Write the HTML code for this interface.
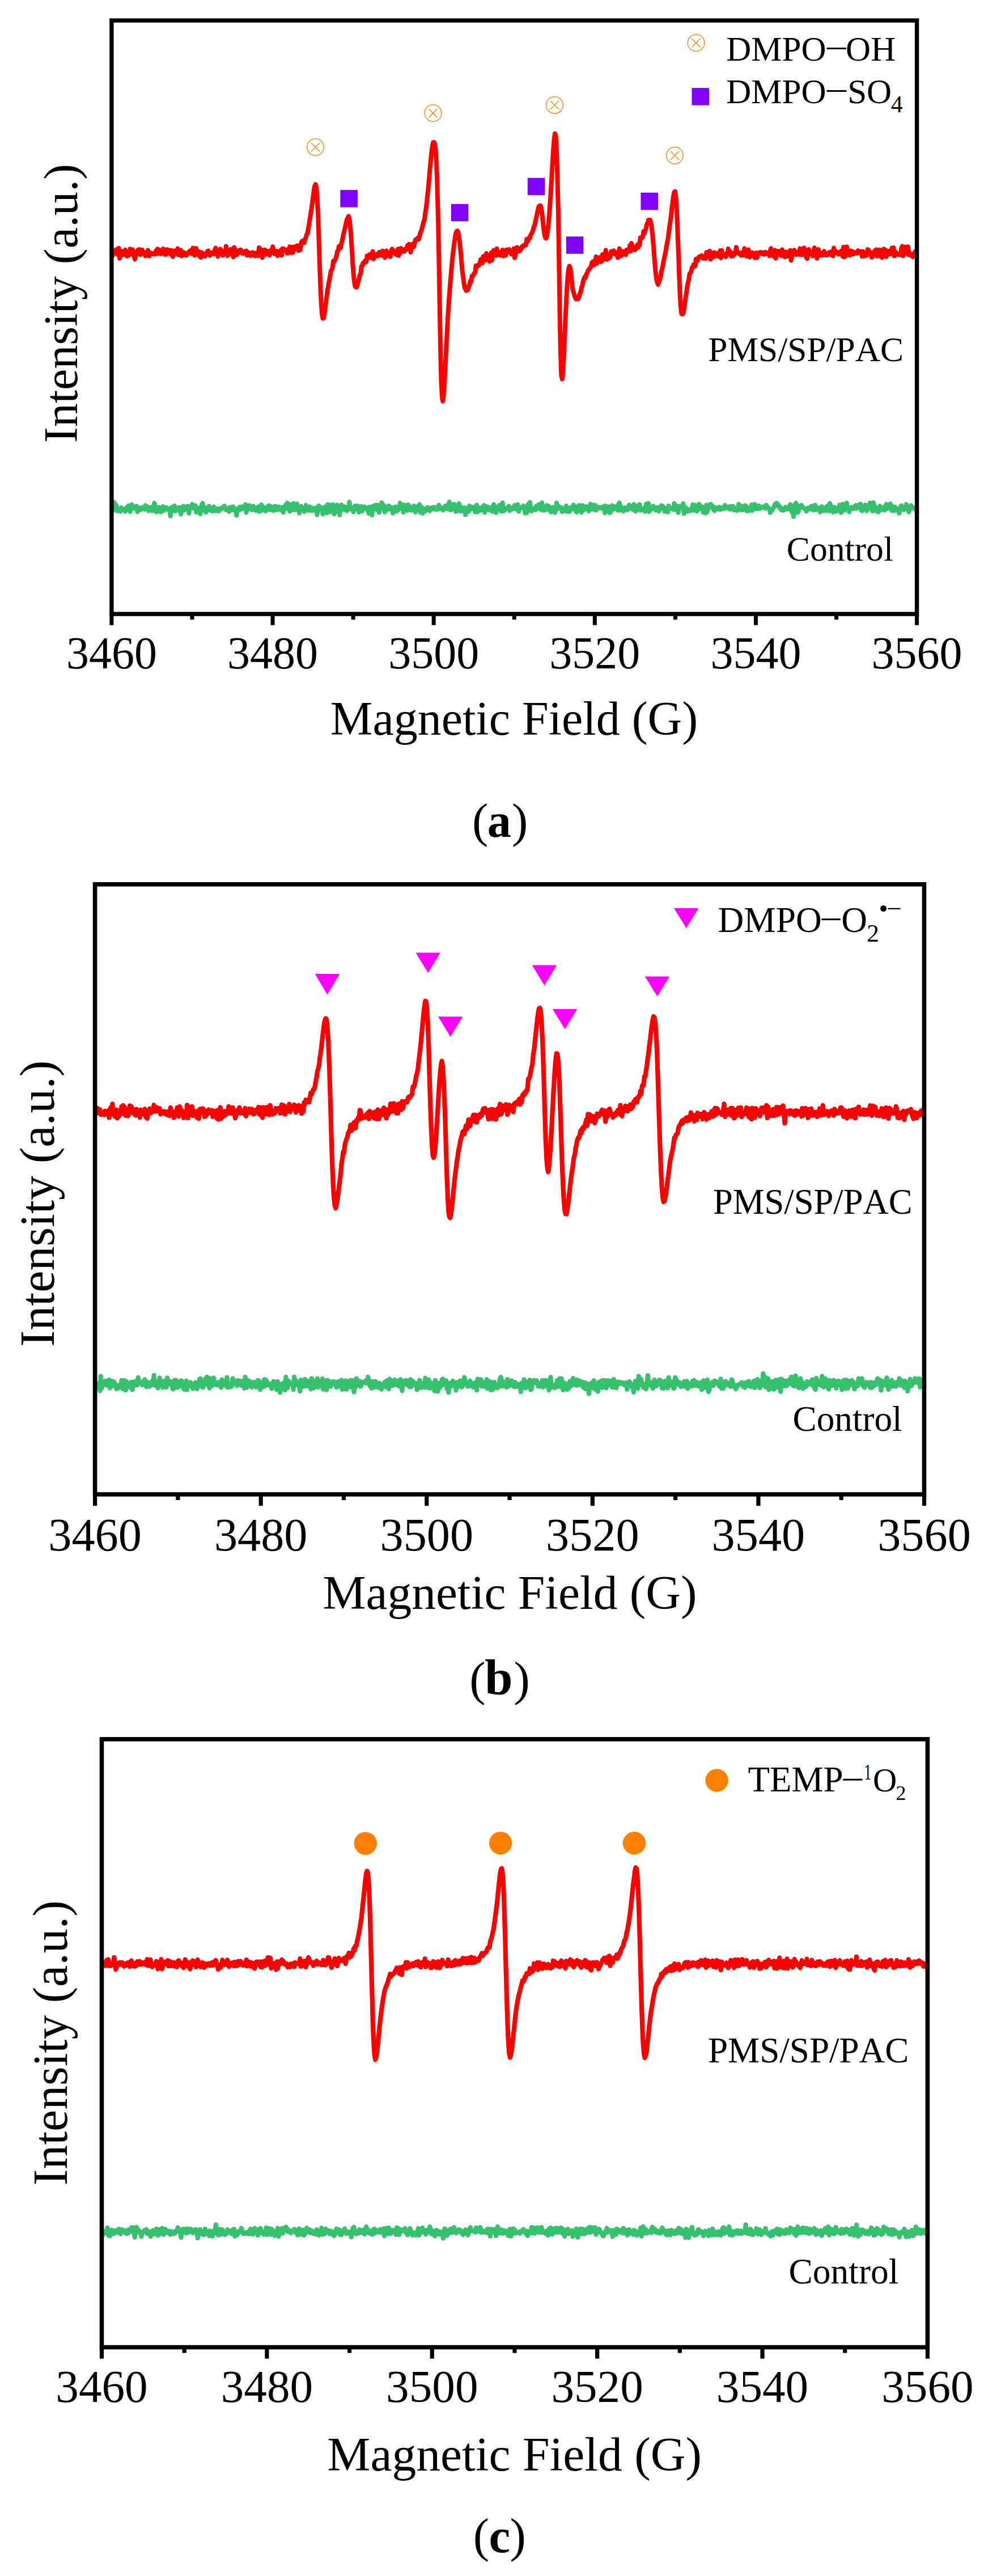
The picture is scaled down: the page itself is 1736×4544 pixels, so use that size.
<!DOCTYPE html>
<html lang="en"><head><meta charset="utf-8"><title>EPR spectra</title>
<style>html,body{margin:0;padding:0;background:#fff}svg{display:block}</style></head>
<body>
<svg width="1736" height="4544" viewBox="0 0 1736 4544" font-family="'Liberation Serif', 'Times New Roman', Times, serif" fill="#000" style="font-kerning:none">
<rect width="1736" height="4544" fill="#fff"/>
<defs>
<clipPath id="ca"><rect x="196.90" y="36.10" width="1420.70" height="1047.00"/></clipPath>
<clipPath id="cb"><rect x="167.60" y="1559.90" width="1462.90" height="1076.10"/></clipPath>
<clipPath id="cc"><rect x="179.50" y="3067.90" width="1456.90" height="1072.60"/></clipPath>
</defs>
<g clip-path="url(#ca)" fill="none" stroke-linejoin="round" stroke-linecap="butt">
<path d="M196.9 891.8L198.3 901.3L199.7 899.4L201.2 885.8L202.6 889.0L204.0 895.6L205.4 891.1L206.9 901.4L208.3 897.3L209.7 898.8L211.1 900.3L212.5 901.9L214.0 895.4L215.4 899.1L216.8 897.6L218.2 899.8L219.7 898.8L221.1 902.3L222.5 898.7L223.9 894.6L225.3 897.1L226.8 892.0L228.2 897.9L229.6 902.7L231.0 894.1L232.5 889.9L233.9 896.2L235.3 894.5L236.7 896.6L238.1 894.2L239.6 896.9L241.0 892.5L242.4 902.8L243.8 895.7L245.3 898.6L246.7 899.6L248.1 896.0L249.5 898.4L250.9 895.6L252.4 894.8L253.8 895.7L255.2 898.5L256.6 891.5L258.1 892.9L259.5 893.3L260.9 894.3L262.3 901.2L263.7 896.5L265.2 895.3L266.6 897.2L268.0 900.8L269.4 893.6L270.9 900.7L272.3 887.2L273.7 893.0L275.1 902.5L276.5 902.9L278.0 897.4L279.4 894.9L280.8 899.9L282.2 895.0L283.6 902.9L285.1 901.4L286.5 899.7L287.9 893.3L289.3 900.6L290.8 895.7L292.2 895.7L293.6 895.0L295.0 896.2L296.4 898.7L297.9 900.1L299.3 900.1L300.7 910.3L302.1 895.3L303.6 901.4L305.0 894.1L306.4 896.0L307.8 892.1L309.2 901.6L310.7 897.8L312.1 897.3L313.5 896.3L314.9 900.5L316.4 894.8L317.8 898.4L319.2 906.9L320.6 896.2L322.0 894.3L323.5 892.7L324.9 900.1L326.3 897.1L327.7 893.8L329.2 893.5L330.6 896.9L332.0 892.8L333.4 905.3L334.8 896.0L336.3 896.1L337.7 896.5L339.1 889.5L340.5 891.0L342.0 895.4L343.4 896.7L344.8 891.8L346.2 903.6L347.6 898.7L349.1 902.0L350.5 901.5L351.9 895.9L353.3 906.6L354.8 897.3L356.2 889.3L357.6 887.4L359.0 896.8L360.4 900.3L361.9 897.1L363.3 903.8L364.7 895.6L366.1 899.1L367.6 899.8L369.0 892.7L370.4 898.1L371.8 898.3L373.2 901.2L374.7 901.7L376.1 900.8L377.5 893.8L378.9 899.8L380.4 901.1L381.8 897.0L383.2 899.8L384.6 899.9L386.0 901.6L387.5 897.1L388.9 898.7L390.3 897.6L391.7 897.1L393.2 894.3L394.6 895.5L396.0 892.3L397.4 896.0L398.8 899.6L400.3 899.3L401.7 899.8L403.1 896.3L404.5 902.4L406.0 895.0L407.4 899.9L408.8 898.5L410.2 893.8L411.6 894.0L413.1 899.8L414.5 896.9L415.9 897.9L417.3 909.1L418.8 899.1L420.2 897.3L421.6 899.7L423.0 894.4L424.4 896.1L425.9 898.6L427.3 893.5L428.7 896.7L430.1 896.1L431.6 897.2L433.0 889.7L434.4 903.9L435.8 896.5L437.2 899.0L438.7 892.7L440.1 891.6L441.5 896.9L442.9 895.5L444.3 899.4L445.8 893.1L447.2 892.9L448.6 898.1L450.0 899.6L451.5 900.5L452.9 896.7L454.3 897.9L455.7 893.6L457.1 902.1L458.6 901.4L460.0 901.2L461.4 890.4L462.8 900.3L464.3 893.9L465.7 898.8L467.1 898.5L468.5 901.7L469.9 896.0L471.4 895.4L472.8 892.8L474.2 892.0L475.6 899.1L477.1 893.1L478.5 899.5L479.9 895.2L481.3 894.5L482.7 900.6L484.2 900.2L485.6 892.8L487.0 896.1L488.4 896.7L489.9 899.4L491.3 893.8L492.7 895.1L494.1 896.3L495.5 899.5L497.0 900.3L498.4 894.6L499.8 903.7L501.2 898.4L502.7 893.5L504.1 890.5L505.5 894.7L506.9 887.2L508.3 897.4L509.8 898.9L511.2 901.8L512.6 898.7L514.0 889.9L515.5 895.6L516.9 899.5L518.3 888.0L519.7 893.4L521.1 899.2L522.6 896.9L524.0 888.7L525.4 894.7L526.8 896.8L528.3 905.0L529.7 894.9L531.1 893.1L532.5 897.7L533.9 898.0L535.4 899.0L536.8 902.5L538.2 896.4L539.6 891.2L541.1 896.9L542.5 896.8L543.9 900.6L545.3 900.1L546.7 893.8L548.2 899.8L549.6 900.7L551.0 896.0L552.4 900.5L553.9 897.4L555.3 897.4L556.7 896.1L558.1 899.9L559.5 908.2L561.0 897.6L562.4 892.1L563.8 895.8L565.2 894.4L566.7 898.0L568.1 896.2L569.5 906.9L570.9 899.7L572.3 904.1L573.8 893.9L575.2 895.9L576.6 904.9L578.0 890.0L579.5 897.3L580.9 890.5L582.3 902.9L583.7 891.1L585.1 895.5L586.6 896.0L588.0 890.0L589.4 906.6L590.8 896.0L592.2 903.3L593.7 893.9L595.1 890.8L596.5 897.6L597.9 897.5L599.4 908.4L600.8 892.5L602.2 890.4L603.6 893.9L605.0 897.9L606.5 898.9L607.9 893.7L609.3 895.3L610.7 898.9L612.2 901.0L613.6 894.3L615.0 897.2L616.4 885.6L617.8 892.8L619.3 898.4L620.7 896.6L622.1 895.9L623.5 903.1L625.0 895.5L626.4 892.3L627.8 897.5L629.2 897.5L630.6 892.1L632.1 900.7L633.5 903.5L634.9 894.3L636.3 893.2L637.8 896.3L639.2 901.6L640.6 894.4L642.0 893.7L643.4 894.3L644.9 897.6L646.3 897.5L647.7 896.0L649.1 901.5L650.6 905.7L652.0 894.3L653.4 900.8L654.8 897.7L656.2 908.7L657.7 893.1L659.1 895.3L660.5 897.1L661.9 891.0L663.4 895.8L664.8 899.5L666.2 890.9L667.6 897.2L669.0 903.8L670.5 894.3L671.9 893.1L673.3 886.5L674.7 896.2L676.2 890.1L677.6 898.9L679.0 903.2L680.4 898.9L681.8 893.5L683.3 899.3L684.7 894.8L686.1 892.1L687.5 894.7L689.0 897.6L690.4 895.2L691.8 898.8L693.2 905.2L694.6 899.1L696.1 899.7L697.5 894.0L698.9 902.0L700.3 898.1L701.8 900.7L703.2 893.5L704.6 897.6L706.0 887.2L707.4 895.2L708.9 893.2L710.3 892.6L711.7 903.6L713.1 890.5L714.6 896.0L716.0 896.0L717.4 898.7L718.8 900.6L720.2 890.2L721.7 894.4L723.1 893.8L724.5 899.4L725.9 900.3L727.4 894.9L728.8 894.4L730.2 892.5L731.6 898.0L733.0 903.3L734.5 898.1L735.9 893.8L737.3 893.2L738.7 893.7L740.2 890.0L741.6 903.5L743.0 896.9L744.4 895.2L745.8 905.5L747.3 897.4L748.7 902.5L750.1 897.6L751.5 901.0L752.9 896.8L754.4 895.1L755.8 898.2L757.2 899.4L758.6 900.9L760.1 897.4L761.5 895.5L762.9 895.1L764.3 897.8L765.7 894.6L767.2 895.2L768.6 898.7L770.0 898.9L771.4 898.6L772.9 893.6L774.3 890.8L775.7 897.6L777.1 897.0L778.5 895.0L780.0 897.4L781.4 899.9L782.8 895.7L784.2 898.1L785.7 892.6L787.1 895.7L788.5 893.2L789.9 890.7L791.3 898.3L792.8 885.2L794.2 896.3L795.6 899.6L797.0 898.1L798.5 890.3L799.9 897.5L801.3 889.2L802.7 893.0L804.1 902.3L805.6 897.2L807.0 901.2L808.4 892.1L809.8 888.2L811.3 893.5L812.7 901.6L814.1 900.2L815.5 900.8L816.9 895.9L818.4 896.2L819.8 895.7L821.2 908.1L822.6 896.9L824.1 903.6L825.5 895.8L826.9 902.1L828.3 892.2L829.7 894.5L831.2 898.0L832.6 894.3L834.0 894.9L835.4 895.9L836.9 894.4L838.3 902.8L839.7 901.1L841.1 891.0L842.5 903.4L844.0 896.4L845.4 896.4L846.8 895.9L848.2 900.1L849.7 899.4L851.1 894.5L852.5 896.8L853.9 891.3L855.3 904.0L856.8 893.2L858.2 893.0L859.6 893.7L861.0 897.2L862.5 899.6L863.9 895.2L865.3 896.7L866.7 895.2L868.1 901.8L869.6 897.5L871.0 889.8L872.4 902.5L873.8 898.0L875.3 904.3L876.7 894.2L878.1 894.6L879.5 895.9L880.9 891.0L882.4 895.1L883.8 901.7L885.2 899.4L886.6 887.0L888.1 901.8L889.5 898.1L890.9 899.9L892.3 896.8L893.7 897.4L895.2 896.9L896.6 896.9L898.0 892.5L899.4 900.8L900.9 897.5L902.3 898.2L903.7 898.0L905.1 895.4L906.5 896.4L908.0 891.3L909.4 897.7L910.8 897.8L912.2 895.7L913.6 889.8L915.1 902.0L916.5 896.0L917.9 896.6L919.3 895.4L920.8 894.3L922.2 895.0L923.6 892.2L925.0 894.3L926.4 904.9L927.9 901.4L929.3 904.7L930.7 894.2L932.1 889.1L933.6 891.2L935.0 886.1L936.4 901.0L937.8 901.6L939.2 897.1L940.7 898.2L942.1 898.1L943.5 896.2L944.9 899.6L946.4 892.6L947.8 894.9L949.2 896.1L950.6 889.8L952.0 892.6L953.5 898.4L954.9 898.0L956.3 886.8L957.7 900.3L959.2 898.1L960.6 899.7L962.0 896.4L963.4 899.0L964.8 891.5L966.3 895.8L967.7 892.4L969.1 894.6L970.5 901.3L972.0 903.2L973.4 896.8L974.8 894.9L976.2 899.8L977.6 898.5L979.1 904.3L980.5 899.2L981.9 887.3L983.3 896.9L984.8 895.4L986.2 893.4L987.6 897.2L989.0 896.9L990.4 895.2L991.9 902.7L993.3 898.1L994.7 898.3L996.1 897.3L997.6 901.5L999.0 892.2L1000.4 901.5L1001.8 895.7L1003.2 902.6L1004.7 902.3L1006.1 898.6L1007.5 894.8L1008.9 897.8L1010.4 898.1L1011.8 890.8L1013.2 895.4L1014.6 893.9L1016.0 902.1L1017.5 903.4L1018.9 893.7L1020.3 894.5L1021.7 891.4L1023.2 897.7L1024.6 899.9L1026.0 903.8L1027.4 891.5L1028.8 900.4L1030.3 896.1L1031.7 893.8L1033.1 895.3L1034.5 893.6L1036.0 898.4L1037.4 896.6L1038.8 901.4L1040.2 894.5L1041.6 889.2L1043.1 892.7L1044.5 898.0L1045.9 890.7L1047.3 893.6L1048.8 898.8L1050.2 891.1L1051.6 900.0L1053.0 898.0L1054.4 894.3L1055.9 896.4L1057.3 894.6L1058.7 895.0L1060.1 895.3L1061.6 896.7L1063.0 896.2L1064.4 893.6L1065.8 892.7L1067.2 904.9L1068.7 892.2L1070.1 896.0L1071.5 901.4L1072.9 900.5L1074.3 893.7L1075.8 904.6L1077.2 903.6L1078.6 895.3L1080.0 891.7L1081.5 899.1L1082.9 895.9L1084.3 895.4L1085.7 893.4L1087.1 894.2L1088.6 897.2L1090.0 900.2L1091.4 888.3L1092.8 887.1L1094.3 900.4L1095.7 893.2L1097.1 899.3L1098.5 897.0L1099.9 901.6L1101.4 900.2L1102.8 895.5L1104.2 896.0L1105.6 897.9L1107.1 899.6L1108.5 894.1L1109.9 890.5L1111.3 897.0L1112.7 896.4L1114.2 896.0L1115.6 892.6L1117.0 899.0L1118.4 889.7L1119.9 894.7L1121.3 901.8L1122.7 892.2L1124.1 898.3L1125.5 898.4L1127.0 898.3L1128.4 889.9L1129.8 900.6L1131.2 897.2L1132.7 898.6L1134.1 897.8L1135.5 896.9L1136.9 901.5L1138.3 902.4L1139.8 889.2L1141.2 893.5L1142.6 896.0L1144.0 888.0L1145.5 902.5L1146.9 893.5L1148.3 898.9L1149.7 897.5L1151.1 895.8L1152.6 892.6L1154.0 895.2L1155.4 897.0L1156.8 899.8L1158.3 895.8L1159.7 895.1L1161.1 895.6L1162.5 901.8L1163.9 897.8L1165.4 893.9L1166.8 891.6L1168.2 895.0L1169.6 893.0L1171.1 895.0L1172.5 902.1L1173.9 899.4L1175.3 897.5L1176.7 898.3L1178.2 903.5L1179.6 892.1L1181.0 898.4L1182.4 895.8L1183.9 897.2L1185.3 896.9L1186.7 895.4L1188.1 898.8L1189.5 888.0L1191.0 897.8L1192.4 899.3L1193.8 892.8L1195.2 892.7L1196.7 904.2L1198.1 893.1L1199.5 895.1L1200.9 893.6L1202.3 894.2L1203.8 894.0L1205.2 888.2L1206.6 906.1L1208.0 893.7L1209.5 898.1L1210.9 896.3L1212.3 902.0L1213.7 899.4L1215.1 901.1L1216.6 901.3L1218.0 900.0L1219.4 896.8L1220.8 900.2L1222.3 890.3L1223.7 900.2L1225.1 899.4L1226.5 897.8L1227.9 891.3L1229.4 901.9L1230.8 893.9L1232.2 899.1L1233.6 889.3L1235.0 895.9L1236.5 894.0L1237.9 893.5L1239.3 894.0L1240.7 903.7L1242.2 896.5L1243.6 898.0L1245.0 905.1L1246.4 890.9L1247.8 902.7L1249.3 895.1L1250.7 894.1L1252.1 895.0L1253.5 889.4L1255.0 890.5L1256.4 892.1L1257.8 894.4L1259.2 899.4L1260.6 900.9L1262.1 895.1L1263.5 898.1L1264.9 898.3L1266.3 895.7L1267.8 897.5L1269.2 894.3L1270.6 898.8L1272.0 895.7L1273.4 896.7L1274.9 897.6L1276.3 897.2L1277.7 893.7L1279.1 891.2L1280.6 896.3L1282.0 894.3L1283.4 894.5L1284.8 896.2L1286.2 893.8L1287.7 898.4L1289.1 898.2L1290.5 893.0L1291.9 898.0L1293.4 892.8L1294.8 899.5L1296.2 899.0L1297.6 896.5L1299.0 900.1L1300.5 900.6L1301.9 898.3L1303.3 889.3L1304.7 897.1L1306.2 897.4L1307.6 899.8L1309.0 892.6L1310.4 899.4L1311.8 898.0L1313.3 898.2L1314.7 891.6L1316.1 893.1L1317.5 901.1L1319.0 899.8L1320.4 896.2L1321.8 900.9L1323.2 897.6L1324.6 894.9L1326.1 890.3L1327.5 900.6L1328.9 896.0L1330.3 897.5L1331.8 889.4L1333.2 894.4L1334.6 897.7L1336.0 895.5L1337.4 893.6L1338.9 892.1L1340.3 897.3L1341.7 895.1L1343.1 895.2L1344.6 895.3L1346.0 893.9L1347.4 895.2L1348.8 894.1L1350.2 896.6L1351.7 891.0L1353.1 892.1L1354.5 896.6L1355.9 895.8L1357.4 897.1L1358.8 904.5L1360.2 899.4L1361.6 901.0L1363.0 898.1L1364.5 896.0L1365.9 893.3L1367.3 889.1L1368.7 890.9L1370.2 887.2L1371.6 892.0L1373.0 890.2L1374.4 892.6L1375.8 896.4L1377.3 894.9L1378.7 900.0L1380.1 900.1L1381.5 900.5L1382.9 899.9L1384.4 897.5L1385.8 894.4L1387.2 898.3L1388.6 895.5L1390.1 895.7L1391.5 898.1L1392.9 892.2L1394.3 890.0L1395.7 897.8L1397.2 903.5L1398.6 900.9L1400.0 911.4L1401.4 890.9L1402.9 893.9L1404.3 887.4L1405.7 893.1L1407.1 904.0L1408.5 902.9L1410.0 892.5L1411.4 895.2L1412.8 893.2L1414.2 891.2L1415.7 895.5L1417.1 895.2L1418.5 896.9L1419.9 897.5L1421.3 899.3L1422.8 901.9L1424.2 896.2L1425.6 895.7L1427.0 896.5L1428.5 898.3L1429.9 896.0L1431.3 892.6L1432.7 894.4L1434.1 899.4L1435.6 892.4L1437.0 899.7L1438.4 891.0L1439.8 898.9L1441.3 898.8L1442.7 895.7L1444.1 896.4L1445.5 895.6L1446.9 903.2L1448.4 894.8L1449.8 893.6L1451.2 898.0L1452.6 900.9L1454.1 897.8L1455.5 895.9L1456.9 900.6L1458.3 893.5L1459.7 893.4L1461.2 891.6L1462.6 901.3L1464.0 887.7L1465.4 891.4L1466.9 897.5L1468.3 898.1L1469.7 903.4L1471.1 898.2L1472.5 894.5L1474.0 902.0L1475.4 900.7L1476.8 901.1L1478.2 900.7L1479.7 898.5L1481.1 890.8L1482.5 892.3L1483.9 904.3L1485.3 896.7L1486.8 889.2L1488.2 896.7L1489.6 900.3L1491.0 898.1L1492.5 896.5L1493.9 887.3L1495.3 896.7L1496.7 895.9L1498.1 903.1L1499.6 896.5L1501.0 896.3L1502.4 894.7L1503.8 896.0L1505.3 897.6L1506.7 894.5L1508.1 893.0L1509.5 891.6L1510.9 896.9L1512.4 895.1L1513.8 895.2L1515.2 890.5L1516.6 893.3L1518.1 889.0L1519.5 900.2L1520.9 901.1L1522.3 898.1L1523.7 896.0L1525.2 898.3L1526.6 890.6L1528.0 891.2L1529.4 901.1L1530.9 892.3L1532.3 896.2L1533.7 893.8L1535.1 886.8L1536.5 893.8L1538.0 899.7L1539.4 901.6L1540.8 886.5L1542.2 890.2L1543.6 894.2L1545.1 900.4L1546.5 901.3L1547.9 902.7L1549.3 903.1L1550.8 894.8L1552.2 892.5L1553.6 900.1L1555.0 895.4L1556.4 896.6L1557.9 895.0L1559.3 894.9L1560.7 900.1L1562.1 892.4L1563.6 889.5L1565.0 893.7L1566.4 896.8L1567.8 895.2L1569.2 895.9L1570.7 888.5L1572.1 892.9L1573.5 900.7L1574.9 895.7L1576.4 893.7L1577.8 900.9L1579.2 894.2L1580.6 899.4L1582.0 897.2L1583.5 898.0L1584.9 900.5L1586.3 905.3L1587.7 901.4L1589.2 893.0L1590.6 891.9L1592.0 895.1L1593.4 895.7L1594.8 899.1L1596.3 896.5L1597.7 897.1L1599.1 889.6L1600.5 896.1L1602.0 898.4L1603.4 903.1L1604.8 899.5L1606.2 896.7L1607.6 891.6L1609.1 896.3L1610.5 896.3L1611.9 895.8L1613.3 896.9L1614.8 898.3L1616.2 898.1L1617.6 905.2" stroke="#36c16e" stroke-width="8.0"/>
<path d="M196.9 440.0L198.3 451.3L199.7 442.3L201.2 444.9L202.6 445.6L204.0 442.9L205.4 440.2L206.9 448.7L208.3 447.5L209.7 437.8L211.1 455.8L212.5 450.0L214.0 442.8L215.4 449.8L216.8 444.0L218.2 445.7L219.7 449.3L221.1 440.7L222.5 448.4L223.9 451.8L225.3 451.5L226.8 444.7L228.2 449.8L229.6 439.1L231.0 445.3L232.5 447.8L233.9 440.3L235.3 445.6L236.7 453.2L238.1 457.0L239.6 449.2L241.0 449.4L242.4 441.9L243.8 440.9L245.3 440.0L246.7 448.2L248.1 449.1L249.5 443.2L250.9 440.8L252.4 447.0L253.8 447.3L255.2 445.4L256.6 451.3L258.1 445.6L259.5 445.7L260.9 441.3L262.3 446.5L263.7 451.6L265.2 446.2L266.6 446.2L268.0 447.8L269.4 447.1L270.9 448.2L272.3 448.2L273.7 448.5L275.1 442.6L276.5 447.2L278.0 439.2L279.4 447.1L280.8 440.6L282.2 445.6L283.6 447.9L285.1 444.2L286.5 446.3L287.9 439.0L289.3 442.3L290.8 448.8L292.2 441.1L293.6 448.7L295.0 440.1L296.4 442.1L297.9 441.3L299.3 446.0L300.7 448.2L302.1 441.5L303.6 445.2L305.0 452.7L306.4 444.6L307.8 442.5L309.2 447.5L310.7 445.0L312.1 443.0L313.5 438.4L314.9 449.4L316.4 443.5L317.8 445.9L319.2 441.4L320.6 451.4L322.0 449.1L323.5 450.0L324.9 445.4L326.3 447.9L327.7 449.6L329.2 450.2L330.6 447.2L332.0 445.6L333.4 444.4L334.8 442.8L336.3 441.8L337.7 447.4L339.1 444.9L340.5 437.5L342.0 445.2L343.4 450.4L344.8 444.7L346.2 438.1L347.6 445.4L349.1 449.2L350.5 446.7L351.9 444.1L353.3 453.6L354.8 453.9L356.2 445.5L357.6 449.3L359.0 447.5L360.4 449.2L361.9 452.0L363.3 449.3L364.7 446.2L366.1 443.1L367.6 442.4L369.0 445.7L370.4 450.7L371.8 447.1L373.2 446.1L374.7 446.9L376.1 446.0L377.5 448.1L378.9 441.1L380.4 437.5L381.8 444.0L383.2 441.0L384.6 452.6L386.0 445.2L387.5 444.8L388.9 439.4L390.3 447.0L391.7 443.2L393.2 450.5L394.6 449.3L396.0 442.5L397.4 447.5L398.8 434.4L400.3 443.0L401.7 451.0L403.1 449.1L404.5 446.5L406.0 445.6L407.4 439.8L408.8 440.0L410.2 446.7L411.6 453.1L413.1 436.6L414.5 448.4L415.9 448.2L417.3 449.7L418.8 442.1L420.2 443.5L421.6 445.9L423.0 441.4L424.4 440.5L425.9 442.0L427.3 445.4L428.7 447.2L430.1 445.5L431.6 446.0L433.0 442.7L434.4 442.6L435.8 450.3L437.2 445.4L438.7 445.2L440.1 449.5L441.5 450.8L442.9 450.9L444.3 447.2L445.8 445.3L447.2 446.7L448.6 446.2L450.0 451.3L451.5 446.7L452.9 448.1L454.3 445.3L455.7 451.1L457.1 436.7L458.6 446.9L460.0 448.5L461.4 440.4L462.8 454.3L464.3 444.6L465.7 444.5L467.1 440.6L468.5 448.8L469.9 446.1L471.4 442.6L472.8 446.0L474.2 447.9L475.6 450.1L477.1 445.8L478.5 440.8L479.9 442.5L481.3 435.1L482.7 441.6L484.2 447.7L485.6 446.5L487.0 444.0L488.4 443.0L489.9 451.0L491.3 445.4L492.7 448.0L494.1 445.7L495.5 441.1L497.0 450.3L498.4 438.5L499.8 438.5L501.2 441.6L502.7 440.2L504.1 440.7L505.5 440.3L506.9 446.8L508.3 442.6L509.8 443.6L511.2 435.2L512.6 438.0L514.0 445.7L515.5 435.8L516.9 445.2L518.3 435.6L519.7 440.6L521.1 435.2L522.6 438.8L524.0 433.6L525.4 435.4L526.8 442.0L528.3 432.8L529.7 440.7L531.1 429.9L532.5 425.7L533.9 428.2L535.4 424.3L536.8 428.2L538.2 422.3L539.6 419.3L541.1 413.6L542.5 412.1L543.9 402.8L545.3 395.5L546.7 385.9L548.2 377.0L549.6 368.1L551.0 357.8L552.4 346.5L553.9 335.0L555.3 328.0L556.7 325.2L558.1 330.5L559.5 348.0L561.0 377.0L562.4 417.1L563.8 461.7L565.2 502.2L566.7 534.3L568.1 553.5L569.5 561.5L570.9 561.4L572.3 553.5L573.8 543.8L575.2 532.3L576.6 521.0L578.0 511.1L579.5 502.0L580.9 494.8L582.3 487.1L583.7 478.3L585.1 476.5L586.6 471.5L588.0 460.7L589.4 462.0L590.8 458.9L592.2 455.9L593.7 451.4L595.1 443.1L596.5 442.7L597.9 434.5L599.4 436.0L600.8 437.4L602.2 429.8L603.6 425.3L605.0 417.5L606.5 411.1L607.9 405.0L609.3 399.9L610.7 392.5L612.2 386.9L613.6 384.4L615.0 381.3L616.4 386.7L617.8 398.2L619.3 416.2L620.7 439.1L622.1 461.6L623.5 481.7L625.0 496.2L626.4 504.9L627.8 506.5L629.2 506.5L630.6 502.5L632.1 496.4L633.5 491.1L634.9 485.0L636.3 483.3L637.8 469.3L639.2 468.6L640.6 464.0L642.0 464.6L643.4 461.0L644.9 459.6L646.3 461.7L647.7 451.4L649.1 452.8L650.6 454.0L652.0 449.0L653.4 454.4L654.8 453.4L656.2 448.5L657.7 443.5L659.1 456.8L660.5 451.6L661.9 451.0L663.4 449.1L664.8 448.4L666.2 451.6L667.6 447.8L669.0 444.9L670.5 450.3L671.9 447.3L673.3 443.6L674.7 442.8L676.2 451.3L677.6 448.8L679.0 454.3L680.4 443.6L681.8 442.5L683.3 447.1L684.7 451.1L686.1 447.6L687.5 446.7L689.0 452.7L690.4 441.5L691.8 439.2L693.2 441.1L694.6 442.7L696.1 445.4L697.5 447.9L698.9 445.1L700.3 449.6L701.8 439.5L703.2 450.7L704.6 439.1L706.0 447.1L707.4 438.0L708.9 443.0L710.3 441.4L711.7 443.0L713.1 443.6L714.6 439.2L716.0 439.3L717.4 440.1L718.8 433.2L720.2 435.0L721.7 430.7L723.1 436.6L724.5 444.7L725.9 437.9L727.4 430.5L728.8 430.1L730.2 435.3L731.6 428.5L733.0 422.8L734.5 423.3L735.9 421.4L737.3 419.4L738.7 422.1L740.2 417.3L741.6 409.9L743.0 408.5L744.4 402.8L745.8 397.6L747.3 391.2L748.7 388.9L750.1 377.5L751.5 368.7L752.9 357.5L754.4 343.3L755.8 329.5L757.2 313.6L758.6 297.1L760.1 282.3L761.5 267.4L762.9 256.7L764.3 251.1L765.7 250.8L767.2 253.3L768.6 264.0L770.0 287.1L771.4 326.4L772.9 383.1L774.3 452.6L775.7 539.1L777.1 618.0L778.5 673.7L780.0 702.2L781.4 707.8L782.8 695.5L784.2 672.9L785.7 645.8L787.1 617.3L788.5 590.2L789.9 563.8L791.3 540.5L792.8 519.6L794.2 501.7L795.6 485.4L797.0 468.1L798.5 452.9L799.9 441.1L801.3 429.1L802.7 420.5L804.1 412.1L805.6 407.9L807.0 407.1L808.4 410.3L809.8 417.2L811.3 429.4L812.7 444.0L814.1 460.4L815.5 476.2L816.9 488.0L818.4 498.2L819.8 507.4L821.2 510.0L822.6 512.7L824.1 511.4L825.5 511.4L826.9 506.1L828.3 502.9L829.7 495.7L831.2 496.7L832.6 487.1L834.0 487.7L835.4 484.6L836.9 481.7L838.3 480.5L839.7 468.8L841.1 471.2L842.5 468.1L844.0 467.1L845.4 467.7L846.8 462.5L848.2 457.6L849.7 459.0L851.1 464.2L852.5 452.4L853.9 456.4L855.3 451.3L856.8 458.9L858.2 447.0L859.6 451.6L861.0 451.9L862.5 452.3L863.9 461.1L865.3 457.2L866.7 446.1L868.1 458.9L869.6 444.6L871.0 441.4L872.4 442.5L873.8 449.3L875.3 450.4L876.7 438.6L878.1 449.4L879.5 446.1L880.9 449.9L882.4 445.1L883.8 450.2L885.2 448.5L886.6 441.0L888.1 451.7L889.5 446.3L890.9 448.2L892.3 450.2L893.7 440.6L895.2 444.0L896.6 440.7L898.0 439.9L899.4 444.6L900.9 444.6L902.3 448.4L903.7 448.3L905.1 442.1L906.5 438.3L908.0 454.7L909.4 449.9L910.8 440.1L912.2 436.2L913.6 437.8L915.1 440.1L916.5 442.9L917.9 441.6L919.3 438.6L920.8 435.1L922.2 435.8L923.6 432.9L925.0 433.3L926.4 431.4L927.9 432.3L929.3 422.0L930.7 425.8L932.1 424.0L933.6 419.1L935.0 419.5L936.4 414.1L937.8 412.0L939.2 409.1L940.7 404.9L942.1 399.3L943.5 396.8L944.9 389.1L946.4 382.8L947.8 376.1L949.2 369.2L950.6 364.2L952.0 363.0L953.5 362.6L954.9 367.0L956.3 376.5L957.7 390.6L959.2 403.9L960.6 413.6L962.0 419.3L963.4 420.4L964.8 416.5L966.3 407.0L967.7 394.2L969.1 377.8L970.5 357.9L972.0 334.8L973.4 311.2L974.8 286.9L976.2 264.1L977.6 245.6L979.1 235.7L980.5 239.4L981.9 263.4L983.3 308.0L984.8 368.9L986.2 456.8L987.6 553.5L989.0 624.1L990.4 662.0L991.9 668.6L993.3 655.4L994.7 628.4L996.1 595.9L997.6 561.4L999.0 531.3L1000.4 505.6L1001.8 486.2L1003.2 474.0L1004.7 469.3L1006.1 472.5L1007.5 481.4L1008.9 496.8L1010.4 510.1L1011.8 515.2L1013.2 519.9L1014.6 524.2L1016.0 527.2L1017.5 527.2L1018.9 527.0L1020.3 527.1L1021.7 523.2L1023.2 517.2L1024.6 514.7L1026.0 506.9L1027.4 504.1L1028.8 495.9L1030.3 492.0L1031.7 488.4L1033.1 489.9L1034.5 483.8L1036.0 481.5L1037.4 477.5L1038.8 475.6L1040.2 473.4L1041.6 472.4L1043.1 468.4L1044.5 462.8L1045.9 461.6L1047.3 467.6L1048.8 467.1L1050.2 462.7L1051.6 452.9L1053.0 464.6L1054.4 458.7L1055.9 456.3L1057.3 455.9L1058.7 453.6L1060.1 461.7L1061.6 460.8L1063.0 448.9L1064.4 452.0L1065.8 453.6L1067.2 457.1L1068.7 441.3L1070.1 454.9L1071.5 457.6L1072.9 448.9L1074.3 449.7L1075.8 454.8L1077.2 450.9L1078.6 443.4L1080.0 443.8L1081.5 444.1L1082.9 442.2L1084.3 447.9L1085.7 445.5L1087.1 447.6L1088.6 450.1L1090.0 454.4L1091.4 447.5L1092.8 438.6L1094.3 451.9L1095.7 445.4L1097.1 450.5L1098.5 443.4L1099.9 446.3L1101.4 444.1L1102.8 444.2L1104.2 449.3L1105.6 440.9L1107.1 443.9L1108.5 443.7L1109.9 440.7L1111.3 432.7L1112.7 442.7L1114.2 429.0L1115.6 433.8L1117.0 437.4L1118.4 440.1L1119.9 440.9L1121.3 439.6L1122.7 437.5L1124.1 432.5L1125.5 436.8L1127.0 429.6L1128.4 432.4L1129.8 419.2L1131.2 420.9L1132.7 419.3L1134.1 417.6L1135.5 408.2L1136.9 411.6L1138.3 407.3L1139.8 402.1L1141.2 395.6L1142.6 393.6L1144.0 388.1L1145.5 388.0L1146.9 387.9L1148.3 392.4L1149.7 400.9L1151.1 413.6L1152.6 430.0L1154.0 448.1L1155.4 466.6L1156.8 481.9L1158.3 492.7L1159.7 498.7L1161.1 501.8L1162.5 497.8L1163.9 493.4L1165.4 488.2L1166.8 479.6L1168.2 474.2L1169.6 467.3L1171.1 458.6L1172.5 452.0L1173.9 446.6L1175.3 437.7L1176.7 430.3L1178.2 423.1L1179.6 412.0L1181.0 401.7L1182.4 392.1L1183.9 381.0L1185.3 367.5L1186.7 357.0L1188.1 346.0L1189.5 338.8L1191.0 337.8L1192.4 346.9L1193.8 367.6L1195.2 399.9L1196.7 440.8L1198.1 480.8L1199.5 515.5L1200.9 540.1L1202.3 553.3L1203.8 554.1L1205.2 553.4L1206.6 547.1L1208.0 535.9L1209.5 524.9L1210.9 517.6L1212.3 506.2L1213.7 499.7L1215.1 493.3L1216.6 483.3L1218.0 481.2L1219.4 479.5L1220.8 472.0L1222.3 471.6L1223.7 466.9L1225.1 468.1L1226.5 469.1L1227.9 456.9L1229.4 458.3L1230.8 459.6L1232.2 454.4L1233.6 452.6L1235.0 453.6L1236.5 453.1L1237.9 450.8L1239.3 454.3L1240.7 455.7L1242.2 455.0L1243.6 454.2L1245.0 456.0L1246.4 445.0L1247.8 449.9L1249.3 450.8L1250.7 452.0L1252.1 442.8L1253.5 457.2L1255.0 445.4L1256.4 450.0L1257.8 451.8L1259.2 453.2L1260.6 445.6L1262.1 446.0L1263.5 449.8L1264.9 450.5L1266.3 451.8L1267.8 447.6L1269.2 444.9L1270.6 442.1L1272.0 454.9L1273.4 441.8L1274.9 450.4L1276.3 448.6L1277.7 450.6L1279.1 451.3L1280.6 452.9L1282.0 446.9L1283.4 448.8L1284.8 438.9L1286.2 447.2L1287.7 443.2L1289.1 446.3L1290.5 452.1L1291.9 447.4L1293.4 451.5L1294.8 446.0L1296.2 448.5L1297.6 445.1L1299.0 436.1L1300.5 443.7L1301.9 445.6L1303.3 447.4L1304.7 446.7L1306.2 446.1L1307.6 450.6L1309.0 449.2L1310.4 444.9L1311.8 450.2L1313.3 438.2L1314.7 445.4L1316.1 445.9L1317.5 452.0L1319.0 444.3L1320.4 440.3L1321.8 447.2L1323.2 453.6L1324.6 445.6L1326.1 446.0L1327.5 445.6L1328.9 446.7L1330.3 451.9L1331.8 454.7L1333.2 448.4L1334.6 446.0L1336.0 454.2L1337.4 446.8L1338.9 446.7L1340.3 444.9L1341.7 445.1L1343.1 447.4L1344.6 445.2L1346.0 448.1L1347.4 446.7L1348.8 448.7L1350.2 444.7L1351.7 445.5L1353.1 447.4L1354.5 446.6L1355.9 446.7L1357.4 451.2L1358.8 441.8L1360.2 438.2L1361.6 449.3L1363.0 445.3L1364.5 452.0L1365.9 445.9L1367.3 441.4L1368.7 455.5L1370.2 448.0L1371.6 444.4L1373.0 443.1L1374.4 448.6L1375.8 443.4L1377.3 447.9L1378.7 451.1L1380.1 440.4L1381.5 444.7L1382.9 448.2L1384.4 453.2L1385.8 450.1L1387.2 444.3L1388.6 452.4L1390.1 444.7L1391.5 445.5L1392.9 447.8L1394.3 441.6L1395.7 459.1L1397.2 451.2L1398.6 447.1L1400.0 443.8L1401.4 441.3L1402.9 447.7L1404.3 449.1L1405.7 444.5L1407.1 445.4L1408.5 448.5L1410.0 445.9L1411.4 438.4L1412.8 449.0L1414.2 447.2L1415.7 449.2L1417.1 443.0L1418.5 437.2L1419.9 440.9L1421.3 447.4L1422.8 454.9L1424.2 456.0L1425.6 447.4L1427.0 440.0L1428.5 444.7L1429.9 448.0L1431.3 448.0L1432.7 446.5L1434.1 451.7L1435.6 442.3L1437.0 437.0L1438.4 442.4L1439.8 441.2L1441.3 455.5L1442.7 445.3L1444.1 440.1L1445.5 448.7L1446.9 450.3L1448.4 446.3L1449.8 446.9L1451.2 450.4L1452.6 448.3L1454.1 443.2L1455.5 448.6L1456.9 450.0L1458.3 447.5L1459.7 449.8L1461.2 448.6L1462.6 445.1L1464.0 445.5L1465.4 448.7L1466.9 443.8L1468.3 450.9L1469.7 451.2L1471.1 437.6L1472.5 445.8L1474.0 442.9L1475.4 443.4L1476.8 446.7L1478.2 445.4L1479.7 448.5L1481.1 447.4L1482.5 447.6L1483.9 442.8L1485.3 444.6L1486.8 452.2L1488.2 435.7L1489.6 453.3L1491.0 443.7L1492.5 451.0L1493.9 435.2L1495.3 444.3L1496.7 449.6L1498.1 446.7L1499.6 450.3L1501.0 442.4L1502.4 443.7L1503.8 443.3L1505.3 448.2L1506.7 448.0L1508.1 445.5L1509.5 444.9L1510.9 444.8L1512.4 446.4L1513.8 442.1L1515.2 445.8L1516.6 445.5L1518.1 443.8L1519.5 443.7L1520.9 452.3L1522.3 443.5L1523.7 447.8L1525.2 451.8L1526.6 449.2L1528.0 446.1L1529.4 450.3L1530.9 440.1L1532.3 440.9L1533.7 444.4L1535.1 445.1L1536.5 445.6L1538.0 453.9L1539.4 453.1L1540.8 445.9L1542.2 447.1L1543.6 442.2L1545.1 447.4L1546.5 440.4L1547.9 451.9L1549.3 443.9L1550.8 448.4L1552.2 440.6L1553.6 451.9L1555.0 448.6L1556.4 454.3L1557.9 446.3L1559.3 439.2L1560.7 442.7L1562.1 440.8L1563.6 452.7L1565.0 443.4L1566.4 442.9L1567.8 448.5L1569.2 447.2L1570.7 448.1L1572.1 443.9L1573.5 437.6L1574.9 440.3L1576.4 436.8L1577.8 451.4L1579.2 449.9L1580.6 444.5L1582.0 448.7L1583.5 448.9L1584.9 448.7L1586.3 448.3L1587.7 449.7L1589.2 446.4L1590.6 436.7L1592.0 434.4L1593.4 451.3L1594.8 448.5L1596.3 435.5L1597.7 446.8L1599.1 442.3L1600.5 443.7L1602.0 435.1L1603.4 449.3L1604.8 445.7L1606.2 449.5L1607.6 450.6L1609.1 451.5L1610.5 453.0L1611.9 447.3L1613.3 446.9L1614.8 443.3L1616.2 448.3L1617.6 445.0" stroke="#ff0000" stroke-width="8.0"/>
</g>
<line x1="196.90" y1="1083.10" x2="196.90" y2="1102.70" stroke="#000" stroke-width="7.0"/>
<line x1="338.97" y1="1083.10" x2="338.97" y2="1092.90" stroke="#000" stroke-width="7.0"/>
<line x1="481.04" y1="1083.10" x2="481.04" y2="1102.70" stroke="#000" stroke-width="7.0"/>
<line x1="623.11" y1="1083.10" x2="623.11" y2="1092.90" stroke="#000" stroke-width="7.0"/>
<line x1="765.18" y1="1083.10" x2="765.18" y2="1102.70" stroke="#000" stroke-width="7.0"/>
<line x1="907.25" y1="1083.10" x2="907.25" y2="1092.90" stroke="#000" stroke-width="7.0"/>
<line x1="1049.32" y1="1083.10" x2="1049.32" y2="1102.70" stroke="#000" stroke-width="7.0"/>
<line x1="1191.39" y1="1083.10" x2="1191.39" y2="1092.90" stroke="#000" stroke-width="7.0"/>
<line x1="1333.46" y1="1083.10" x2="1333.46" y2="1102.70" stroke="#000" stroke-width="7.0"/>
<line x1="1475.53" y1="1083.10" x2="1475.53" y2="1092.90" stroke="#000" stroke-width="7.0"/>
<line x1="1617.60" y1="1083.10" x2="1617.60" y2="1102.70" stroke="#000" stroke-width="7.0"/>
<rect x="196.90" y="36.10" width="1420.70" height="1047.00" fill="none" stroke="#000" stroke-width="7.4"/>
<text x="196.9" y="1178.7" font-size="80.0" text-anchor="middle">3460</text>
<text x="481.0" y="1178.7" font-size="80.0" text-anchor="middle">3480</text>
<text x="765.2" y="1178.7" font-size="80.0" text-anchor="middle">3500</text>
<text x="1049.3" y="1178.7" font-size="80.0" text-anchor="middle">3520</text>
<text x="1333.5" y="1178.7" font-size="80.0" text-anchor="middle">3540</text>
<text x="1617.6" y="1178.7" font-size="80.0" text-anchor="middle">3560</text>
<text x="907.0" y="1295.5" font-size="84.0" text-anchor="middle">Magnetic Field (G)</text>
<text transform="translate(135.5 535.2) rotate(-90)" font-size="84.0" text-anchor="middle">Intensity (a.u.)</text>
<g clip-path="url(#cb)" fill="none" stroke-linejoin="round" stroke-linecap="butt">
<path d="M167.6 2447.4L169.1 2447.2L170.5 2446.7L172.0 2440.6L173.5 2441.5L174.9 2448.2L176.4 2453.2L177.9 2427.8L179.3 2448.7L180.8 2443.4L182.2 2441.9L183.7 2438.2L185.2 2438.8L186.6 2435.7L188.1 2443.6L189.6 2436.9L191.0 2441.1L192.5 2434.1L194.0 2448.5L195.4 2445.7L196.9 2435.8L198.4 2444.5L199.8 2440.0L201.3 2437.4L202.7 2442.4L204.2 2446.6L205.7 2450.1L207.1 2443.5L208.6 2448.3L210.1 2445.7L211.5 2445.7L213.0 2447.3L214.5 2434.8L215.9 2439.9L217.4 2450.0L218.9 2434.8L220.3 2437.5L221.8 2452.1L223.2 2436.5L224.7 2442.6L226.2 2443.4L227.6 2440.4L229.1 2446.9L230.6 2446.6L232.0 2438.2L233.5 2451.3L235.0 2437.5L236.4 2439.5L237.9 2441.1L239.4 2442.9L240.8 2435.9L242.3 2443.1L243.7 2429.9L245.2 2439.0L246.7 2436.8L248.1 2437.8L249.6 2441.1L251.1 2442.8L252.5 2437.5L254.0 2441.6L255.5 2433.4L256.9 2439.4L258.4 2446.4L259.9 2437.7L261.3 2439.7L262.8 2441.2L264.2 2445.7L265.7 2443.3L267.2 2440.5L268.6 2436.0L270.1 2442.6L271.6 2426.0L273.0 2443.5L274.5 2437.3L276.0 2444.7L277.4 2440.9L278.9 2448.4L280.4 2437.9L281.8 2430.7L283.3 2441.4L284.7 2438.7L286.2 2440.7L287.7 2447.6L289.1 2436.4L290.6 2444.8L292.1 2445.9L293.5 2446.9L295.0 2430.6L296.5 2442.0L297.9 2437.6L299.4 2440.0L300.9 2436.9L302.3 2439.5L303.8 2446.2L305.3 2450.3L306.7 2444.9L308.2 2434.7L309.6 2447.9L311.1 2434.7L312.6 2439.3L314.0 2447.2L315.5 2438.1L317.0 2445.1L318.4 2439.8L319.9 2435.1L321.4 2442.4L322.8 2438.4L324.3 2450.6L325.8 2451.0L327.2 2449.6L328.7 2435.9L330.1 2451.3L331.6 2442.9L333.1 2444.0L334.5 2442.3L336.0 2438.4L337.5 2442.0L338.9 2446.0L340.4 2449.5L341.9 2444.3L343.3 2441.4L344.8 2438.8L346.3 2439.6L347.7 2449.9L349.2 2445.0L350.6 2442.5L352.1 2432.6L353.6 2431.9L355.0 2444.9L356.5 2444.7L358.0 2447.3L359.4 2442.4L360.9 2437.8L362.4 2432.2L363.8 2436.4L365.3 2429.0L366.8 2442.9L368.2 2443.8L369.7 2448.6L371.1 2431.6L372.6 2433.8L374.1 2444.6L375.5 2443.0L377.0 2430.6L378.5 2437.5L379.9 2441.8L381.4 2439.2L382.9 2443.3L384.3 2441.4L385.8 2438.3L387.3 2443.3L388.7 2440.8L390.2 2447.5L391.6 2433.5L393.1 2440.0L394.6 2437.6L396.0 2439.9L397.5 2443.4L399.0 2444.7L400.4 2429.8L401.9 2447.4L403.4 2444.1L404.8 2444.0L406.3 2441.6L407.8 2446.3L409.2 2443.4L410.7 2431.6L412.1 2437.7L413.6 2439.9L415.1 2439.3L416.5 2438.8L418.0 2444.5L419.5 2435.2L420.9 2437.2L422.4 2435.9L423.9 2441.1L425.3 2443.6L426.8 2436.3L428.3 2443.3L429.7 2438.3L431.2 2448.8L432.6 2429.2L434.1 2441.1L435.6 2447.4L437.0 2439.2L438.5 2435.3L440.0 2436.5L441.4 2444.2L442.9 2438.3L444.4 2446.9L445.8 2441.5L447.3 2438.3L448.8 2438.9L450.2 2443.8L451.7 2446.7L453.2 2436.9L454.6 2434.9L456.1 2435.0L457.5 2443.8L459.0 2451.1L460.5 2438.5L461.9 2445.0L463.4 2439.2L464.9 2446.3L466.3 2433.3L467.8 2444.6L469.3 2434.3L470.7 2436.8L472.2 2443.1L473.7 2440.1L475.1 2441.0L476.6 2444.2L478.0 2442.4L479.5 2449.4L481.0 2445.4L482.4 2436.8L483.9 2441.0L485.4 2438.4L486.8 2439.2L488.3 2451.0L489.8 2437.2L491.2 2448.3L492.7 2449.5L494.2 2456.2L495.6 2441.5L497.1 2442.8L498.5 2443.0L500.0 2439.5L501.5 2451.0L502.9 2452.0L504.4 2429.0L505.9 2439.7L507.3 2447.9L508.8 2435.8L510.3 2437.7L511.7 2441.6L513.2 2441.3L514.7 2440.4L516.1 2440.6L517.6 2451.2L519.0 2428.8L520.5 2438.6L522.0 2435.2L523.4 2442.7L524.9 2439.0L526.4 2444.0L527.8 2441.4L529.3 2453.9L530.8 2434.2L532.2 2438.7L533.7 2446.1L535.2 2439.3L536.6 2442.2L538.1 2433.0L539.5 2445.2L541.0 2440.7L542.5 2444.4L543.9 2436.3L545.4 2438.3L546.9 2436.6L548.3 2450.3L549.8 2431.7L551.3 2443.6L552.7 2442.7L554.2 2448.2L555.7 2442.8L557.1 2435.7L558.6 2444.1L560.0 2431.8L561.5 2447.0L563.0 2440.7L564.4 2437.2L565.9 2438.5L567.4 2444.4L568.8 2432.1L570.3 2450.6L571.8 2437.4L573.2 2449.6L574.7 2442.2L576.2 2451.7L577.6 2434.6L579.1 2446.0L580.6 2440.9L582.0 2437.8L583.5 2445.8L584.9 2439.9L586.4 2437.2L587.9 2440.0L589.3 2437.0L590.8 2440.0L592.3 2441.0L593.7 2447.1L595.2 2440.7L596.7 2437.0L598.1 2445.4L599.6 2439.2L601.1 2435.9L602.5 2434.6L604.0 2450.8L605.4 2440.6L606.9 2450.0L608.4 2435.8L609.8 2435.4L611.3 2450.6L612.8 2439.8L614.2 2440.1L615.7 2439.9L617.2 2435.5L618.6 2446.8L620.1 2434.5L621.6 2445.3L623.0 2435.3L624.5 2455.5L625.9 2445.1L627.4 2447.2L628.9 2431.8L630.3 2443.1L631.8 2437.7L633.3 2436.4L634.7 2436.5L636.2 2445.7L637.7 2441.4L639.1 2438.4L640.6 2437.8L642.1 2437.6L643.5 2438.2L645.0 2439.6L646.4 2434.8L647.9 2436.2L649.4 2428.9L650.8 2440.9L652.3 2444.3L653.8 2438.4L655.2 2448.7L656.7 2436.9L658.2 2441.3L659.6 2447.5L661.1 2442.5L662.6 2436.8L664.0 2443.1L665.5 2439.0L666.9 2447.3L668.4 2445.4L669.9 2440.0L671.3 2444.1L672.8 2450.7L674.3 2447.4L675.7 2445.9L677.2 2440.2L678.7 2438.0L680.1 2437.1L681.6 2446.8L683.1 2435.3L684.5 2443.4L686.0 2450.0L687.4 2432.5L688.9 2443.1L690.4 2435.8L691.8 2440.5L693.3 2444.1L694.8 2435.8L696.2 2434.0L697.7 2439.0L699.2 2442.4L700.6 2439.1L702.1 2436.0L703.6 2445.0L705.0 2435.1L706.5 2433.3L708.0 2441.8L709.4 2453.0L710.9 2438.5L712.3 2440.7L713.8 2435.6L715.3 2437.9L716.7 2435.0L718.2 2442.7L719.7 2437.5L721.1 2436.9L722.6 2446.3L724.1 2433.3L725.5 2446.3L727.0 2440.2L728.5 2436.2L729.9 2441.1L731.4 2439.7L732.8 2442.9L734.3 2440.0L735.8 2451.5L737.2 2447.0L738.7 2447.4L740.2 2434.6L741.6 2439.4L743.1 2447.7L744.6 2444.5L746.0 2441.4L747.5 2440.8L749.0 2447.0L750.4 2430.9L751.9 2436.6L753.3 2433.7L754.8 2447.6L756.3 2433.8L757.7 2439.8L759.2 2448.7L760.7 2439.7L762.1 2442.9L763.6 2441.5L765.1 2445.1L766.5 2453.4L768.0 2434.9L769.5 2441.1L770.9 2450.4L772.4 2454.3L773.8 2440.2L775.3 2448.9L776.8 2445.0L778.2 2444.8L779.7 2433.6L781.2 2432.5L782.6 2442.1L784.1 2440.7L785.6 2440.8L787.0 2434.9L788.5 2449.3L790.0 2440.4L791.4 2456.2L792.9 2440.1L794.3 2443.4L795.8 2445.5L797.3 2439.5L798.7 2435.9L800.2 2438.3L801.7 2441.5L803.1 2438.7L804.6 2452.3L806.1 2438.6L807.5 2445.7L809.0 2445.9L810.5 2442.5L811.9 2435.6L813.4 2444.2L814.8 2446.6L816.3 2442.4L817.8 2441.6L819.2 2429.6L820.7 2435.5L822.2 2440.4L823.6 2442.5L825.1 2445.6L826.6 2439.8L828.0 2442.4L829.5 2435.8L831.0 2444.9L832.4 2445.4L833.9 2440.8L835.4 2446.8L836.8 2439.8L838.3 2438.8L839.7 2439.9L841.2 2452.3L842.7 2432.6L844.1 2442.5L845.6 2439.6L847.1 2442.1L848.5 2433.4L850.0 2445.5L851.5 2445.1L852.9 2440.0L854.4 2439.1L855.9 2441.8L857.3 2446.7L858.8 2433.2L860.2 2449.2L861.7 2439.8L863.2 2446.1L864.6 2437.0L866.1 2452.2L867.6 2443.0L869.0 2451.3L870.5 2438.3L872.0 2438.1L873.4 2447.8L874.9 2445.5L876.4 2443.5L877.8 2448.4L879.3 2444.0L880.7 2439.9L882.2 2431.4L883.7 2429.2L885.1 2445.2L886.6 2444.8L888.1 2436.8L889.5 2444.7L891.0 2440.6L892.5 2442.0L893.9 2447.0L895.4 2433.2L896.9 2443.7L898.3 2444.6L899.8 2440.7L901.2 2442.7L902.7 2435.6L904.2 2442.6L905.6 2445.2L907.1 2446.0L908.6 2438.0L910.0 2446.2L911.5 2443.4L913.0 2445.4L914.4 2441.6L915.9 2445.2L917.4 2442.9L918.8 2455.0L920.3 2440.1L921.7 2447.9L923.2 2441.6L924.7 2433.6L926.1 2444.3L927.6 2448.4L929.1 2445.9L930.5 2446.0L932.0 2437.3L933.5 2443.4L934.9 2434.2L936.4 2451.4L937.9 2450.2L939.3 2436.1L940.8 2439.6L942.2 2435.0L943.7 2437.6L945.2 2439.3L946.6 2435.3L948.1 2439.2L949.6 2445.2L951.0 2440.2L952.5 2445.6L954.0 2440.8L955.4 2442.3L956.9 2434.8L958.4 2446.8L959.8 2435.5L961.3 2439.7L962.7 2434.7L964.2 2444.4L965.7 2436.0L967.1 2444.8L968.6 2452.2L970.1 2443.6L971.5 2429.4L973.0 2447.1L974.5 2442.7L975.9 2445.1L977.4 2444.0L978.9 2448.1L980.3 2447.3L981.8 2441.4L983.3 2435.0L984.7 2441.3L986.2 2446.0L987.6 2431.6L989.1 2442.6L990.6 2431.9L992.0 2447.9L993.5 2451.9L995.0 2446.6L996.4 2439.5L997.9 2446.1L999.4 2449.1L1000.8 2451.0L1002.3 2449.6L1003.8 2447.8L1005.2 2436.5L1006.7 2441.3L1008.1 2444.4L1009.6 2442.1L1011.1 2431.2L1012.5 2440.9L1014.0 2438.0L1015.5 2443.0L1016.9 2443.7L1018.4 2434.0L1019.9 2437.7L1021.3 2442.7L1022.8 2436.1L1024.3 2441.6L1025.7 2437.2L1027.2 2437.9L1028.6 2446.6L1030.1 2441.0L1031.6 2438.7L1033.0 2450.1L1034.5 2440.0L1036.0 2441.6L1037.4 2441.8L1038.9 2458.3L1040.4 2445.2L1041.8 2446.5L1043.3 2439.7L1044.8 2446.4L1046.2 2447.9L1047.7 2435.3L1049.1 2444.1L1050.6 2450.8L1052.1 2451.7L1053.5 2443.1L1055.0 2454.4L1056.5 2438.1L1057.9 2447.5L1059.4 2444.8L1060.9 2436.1L1062.3 2447.4L1063.8 2434.9L1065.3 2438.3L1066.7 2441.3L1068.2 2435.3L1069.6 2448.3L1071.1 2439.4L1072.6 2435.1L1074.0 2443.3L1075.5 2441.8L1077.0 2435.9L1078.4 2438.9L1079.9 2446.8L1081.4 2446.4L1082.8 2433.2L1084.3 2447.2L1085.8 2447.2L1087.2 2448.2L1088.7 2439.3L1090.1 2437.7L1091.6 2441.4L1093.1 2438.4L1094.5 2440.5L1096.0 2438.7L1097.5 2440.4L1098.9 2439.2L1100.4 2442.1L1101.9 2442.8L1103.3 2440.5L1104.8 2439.0L1106.3 2450.7L1107.7 2447.0L1109.2 2444.6L1110.7 2437.1L1112.1 2445.4L1113.6 2441.1L1115.0 2445.2L1116.5 2443.2L1118.0 2455.7L1119.4 2442.0L1120.9 2436.4L1122.4 2447.8L1123.8 2448.2L1125.3 2449.2L1126.8 2427.6L1128.2 2436.8L1129.7 2437.4L1131.2 2432.9L1132.6 2442.5L1134.1 2445.4L1135.5 2447.7L1137.0 2446.8L1138.5 2441.9L1139.9 2450.2L1141.4 2443.1L1142.9 2426.3L1144.3 2439.9L1145.8 2437.5L1147.3 2443.5L1148.7 2439.3L1150.2 2439.8L1151.7 2449.1L1153.1 2437.4L1154.6 2434.0L1156.0 2442.8L1157.5 2445.0L1159.0 2440.8L1160.4 2441.4L1161.9 2438.2L1163.4 2434.2L1164.8 2437.2L1166.3 2435.5L1167.8 2448.1L1169.2 2440.0L1170.7 2449.1L1172.2 2440.6L1173.6 2436.3L1175.1 2442.4L1176.5 2442.4L1178.0 2448.6L1179.5 2430.2L1180.9 2439.0L1182.4 2443.6L1183.9 2437.2L1185.3 2442.0L1186.8 2439.7L1188.3 2449.2L1189.7 2448.3L1191.2 2430.0L1192.7 2432.9L1194.1 2437.0L1195.6 2441.0L1197.0 2440.5L1198.5 2438.5L1200.0 2444.7L1201.4 2446.1L1202.9 2441.9L1204.4 2439.8L1205.8 2441.6L1207.3 2436.8L1208.8 2445.9L1210.2 2446.0L1211.7 2436.3L1213.2 2449.4L1214.6 2441.1L1216.1 2445.9L1217.5 2441.4L1219.0 2440.4L1220.5 2445.3L1221.9 2436.1L1223.4 2440.1L1224.9 2434.9L1226.3 2444.1L1227.8 2440.2L1229.3 2439.7L1230.7 2438.5L1232.2 2445.0L1233.7 2442.9L1235.1 2440.2L1236.6 2438.9L1238.1 2451.2L1239.5 2449.7L1241.0 2435.3L1242.4 2448.1L1243.9 2444.3L1245.4 2443.1L1246.8 2443.8L1248.3 2434.0L1249.8 2455.0L1251.2 2452.7L1252.7 2441.7L1254.2 2441.5L1255.6 2442.3L1257.1 2437.8L1258.6 2444.4L1260.0 2441.3L1261.5 2435.6L1262.9 2438.7L1264.4 2437.9L1265.9 2438.1L1267.3 2439.5L1268.8 2444.8L1270.3 2439.1L1271.7 2432.5L1273.2 2449.2L1274.7 2438.1L1276.1 2449.2L1277.6 2442.7L1279.1 2444.3L1280.5 2436.7L1282.0 2441.8L1283.4 2439.2L1284.9 2441.0L1286.4 2443.9L1287.8 2439.2L1289.3 2445.9L1290.8 2433.6L1292.2 2435.4L1293.7 2443.7L1295.2 2444.2L1296.6 2447.2L1298.1 2450.2L1299.6 2443.8L1301.0 2445.5L1302.5 2442.8L1303.9 2442.2L1305.4 2440.9L1306.9 2442.1L1308.3 2438.4L1309.8 2440.6L1311.3 2445.8L1312.7 2444.2L1314.2 2447.7L1315.7 2438.9L1317.1 2439.5L1318.6 2443.8L1320.1 2436.8L1321.5 2436.6L1323.0 2444.8L1324.4 2439.8L1325.9 2446.1L1327.4 2441.9L1328.8 2439.0L1330.3 2435.7L1331.8 2447.9L1333.2 2440.9L1334.7 2436.5L1336.2 2433.1L1337.6 2434.5L1339.1 2439.0L1340.6 2448.0L1342.0 2436.2L1343.5 2442.8L1344.9 2442.4L1346.4 2423.1L1347.9 2434.2L1349.3 2445.5L1350.8 2429.9L1352.3 2447.2L1353.7 2441.1L1355.2 2431.9L1356.7 2451.2L1358.1 2440.3L1359.6 2449.6L1361.1 2442.1L1362.5 2436.9L1364.0 2447.1L1365.5 2450.8L1366.9 2447.9L1368.4 2434.5L1369.8 2444.4L1371.3 2434.5L1372.8 2437.7L1374.2 2448.3L1375.7 2433.1L1377.2 2454.6L1378.6 2432.5L1380.1 2433.8L1381.6 2445.0L1383.0 2439.8L1384.5 2440.1L1386.0 2435.8L1387.4 2444.9L1388.9 2442.1L1390.3 2440.4L1391.8 2436.4L1393.3 2432.7L1394.7 2440.8L1396.2 2428.9L1397.7 2437.3L1399.1 2444.3L1400.6 2444.7L1402.1 2438.6L1403.5 2426.7L1405.0 2443.9L1406.5 2445.7L1407.9 2441.2L1409.4 2447.9L1410.8 2446.6L1412.3 2431.7L1413.8 2439.7L1415.2 2438.2L1416.7 2449.5L1418.2 2446.8L1419.6 2441.5L1421.1 2444.1L1422.6 2445.8L1424.0 2437.0L1425.5 2439.9L1427.0 2440.4L1428.4 2438.6L1429.9 2439.1L1431.3 2442.2L1432.8 2433.8L1434.3 2434.6L1435.7 2445.2L1437.2 2449.3L1438.7 2451.2L1440.1 2431.2L1441.6 2443.0L1443.1 2436.3L1444.5 2437.9L1446.0 2439.7L1447.5 2443.1L1448.9 2444.0L1450.4 2427.6L1451.8 2437.6L1453.3 2446.8L1454.8 2441.6L1456.2 2432.0L1457.7 2435.4L1459.2 2436.4L1460.6 2446.4L1462.1 2450.5L1463.6 2434.8L1465.0 2443.6L1466.5 2439.2L1468.0 2444.0L1469.4 2439.5L1470.9 2434.6L1472.3 2437.2L1473.8 2437.2L1475.3 2448.8L1476.7 2436.6L1478.2 2443.8L1479.7 2436.1L1481.1 2437.1L1482.6 2442.0L1484.1 2437.6L1485.5 2451.5L1487.0 2448.0L1488.5 2434.5L1489.9 2443.6L1491.4 2449.0L1492.8 2434.1L1494.3 2438.5L1495.8 2448.9L1497.2 2436.2L1498.7 2444.2L1500.2 2440.3L1501.6 2441.7L1503.1 2435.0L1504.6 2440.3L1506.0 2438.3L1507.5 2450.4L1509.0 2444.3L1510.4 2441.3L1511.9 2440.6L1513.4 2444.5L1514.8 2431.9L1516.3 2435.2L1517.7 2435.6L1519.2 2436.3L1520.7 2431.6L1522.1 2443.5L1523.6 2438.1L1525.1 2447.6L1526.5 2440.0L1528.0 2438.6L1529.5 2443.1L1530.9 2443.1L1532.4 2439.1L1533.9 2443.9L1535.3 2447.6L1536.8 2438.2L1538.2 2447.8L1539.7 2439.6L1541.2 2445.4L1542.6 2440.4L1544.1 2438.6L1545.6 2442.3L1547.0 2434.5L1548.5 2431.9L1550.0 2440.5L1551.4 2439.3L1552.9 2434.5L1554.4 2452.3L1555.8 2442.9L1557.3 2436.7L1558.7 2443.5L1560.2 2443.7L1561.7 2438.5L1563.1 2439.4L1564.6 2430.5L1566.1 2441.9L1567.5 2451.0L1569.0 2447.0L1570.5 2446.4L1571.9 2437.5L1573.4 2434.8L1574.9 2445.5L1576.3 2442.3L1577.8 2439.6L1579.2 2439.0L1580.7 2445.8L1582.2 2444.1L1583.6 2438.1L1585.1 2440.1L1586.6 2431.5L1588.0 2434.2L1589.5 2443.8L1591.0 2438.2L1592.4 2435.9L1593.9 2442.2L1595.4 2447.6L1596.8 2436.1L1598.3 2438.9L1599.7 2439.3L1601.2 2454.0L1602.7 2446.3L1604.1 2442.1L1605.6 2432.9L1607.1 2444.8L1608.5 2443.8L1610.0 2439.6L1611.5 2436.6L1612.9 2438.2L1614.4 2431.6L1615.9 2438.6L1617.3 2438.2L1618.8 2435.7L1620.2 2438.9L1621.7 2432.0L1623.2 2446.8L1624.6 2439.8L1626.1 2434.2L1627.6 2444.9L1629.0 2443.7L1630.5 2437.9" stroke="#36c16e" stroke-width="8.2"/>
<path d="M167.6 1956.2L169.1 1952.9L170.5 1963.9L172.0 1954.8L173.5 1960.5L174.9 1961.2L176.4 1957.2L177.9 1966.1L179.3 1965.2L180.8 1962.4L182.2 1965.0L183.7 1966.5L185.2 1959.9L186.6 1965.0L188.1 1962.4L189.6 1961.6L191.0 1959.0L192.5 1971.3L194.0 1963.4L195.4 1953.7L196.9 1964.4L198.4 1947.4L199.8 1963.1L201.3 1965.9L202.7 1969.5L204.2 1962.8L205.7 1957.7L207.1 1972.4L208.6 1967.4L210.1 1968.8L211.5 1960.2L213.0 1965.1L214.5 1951.8L215.9 1964.2L217.4 1949.8L218.9 1955.8L220.3 1953.4L221.8 1967.9L223.2 1966.7L224.7 1958.3L226.2 1968.5L227.6 1962.0L229.1 1950.5L230.6 1959.4L232.0 1951.9L233.5 1962.0L235.0 1963.6L236.4 1957.4L237.9 1966.1L239.4 1967.4L240.8 1956.6L242.3 1964.7L243.7 1961.0L245.2 1960.0L246.7 1971.0L248.1 1957.6L249.6 1959.6L251.1 1961.2L252.5 1964.7L254.0 1965.9L255.5 1956.3L256.9 1969.2L258.4 1971.8L259.9 1972.8L261.3 1962.5L262.8 1958.7L264.2 1955.6L265.7 1963.5L267.2 1961.2L268.6 1961.3L270.1 1958.1L271.6 1949.2L273.0 1960.0L274.5 1960.6L276.0 1959.5L277.4 1953.7L278.9 1960.1L280.4 1960.8L281.8 1955.3L283.3 1965.2L284.7 1961.4L286.2 1962.4L287.7 1963.8L289.1 1960.2L290.6 1961.2L292.1 1964.6L293.5 1965.9L295.0 1966.6L296.5 1960.6L297.9 1965.9L299.4 1968.0L300.9 1953.8L302.3 1959.3L303.8 1961.5L305.3 1961.6L306.7 1971.7L308.2 1968.3L309.6 1960.9L311.1 1961.0L312.6 1953.8L314.0 1956.1L315.5 1969.2L317.0 1952.0L318.4 1965.2L319.9 1957.7L321.4 1959.9L322.8 1961.1L324.3 1971.9L325.8 1963.6L327.2 1964.5L328.7 1967.4L330.1 1949.3L331.6 1972.1L333.1 1952.3L334.5 1957.7L336.0 1965.6L337.5 1954.8L338.9 1951.9L340.4 1968.2L341.9 1959.9L343.3 1967.0L344.8 1964.4L346.3 1960.6L347.7 1971.2L349.2 1960.3L350.6 1973.0L352.1 1956.7L353.6 1956.1L355.0 1957.9L356.5 1963.1L358.0 1955.4L359.4 1957.8L360.9 1969.8L362.4 1962.8L363.8 1968.2L365.3 1963.8L366.8 1958.5L368.2 1957.5L369.7 1962.8L371.1 1962.2L372.6 1958.9L374.1 1958.6L375.5 1969.9L377.0 1967.6L378.5 1963.5L379.9 1959.9L381.4 1959.4L382.9 1973.0L384.3 1958.4L385.8 1974.7L387.3 1958.1L388.7 1953.4L390.2 1973.0L391.6 1961.1L393.1 1970.2L394.6 1964.2L396.0 1960.4L397.5 1967.0L399.0 1960.1L400.4 1964.1L401.9 1960.9L403.4 1951.8L404.8 1963.9L406.3 1958.7L407.8 1960.8L409.2 1963.9L410.7 1953.7L412.1 1964.6L413.6 1964.8L415.1 1972.3L416.5 1966.1L418.0 1963.4L419.5 1957.9L420.9 1961.4L422.4 1953.6L423.9 1963.7L425.3 1960.3L426.8 1959.4L428.3 1961.5L429.7 1963.9L431.2 1962.8L432.6 1954.8L434.1 1968.7L435.6 1961.5L437.0 1963.1L438.5 1961.3L440.0 1956.0L441.4 1962.7L442.9 1959.0L444.4 1956.4L445.8 1961.8L447.3 1965.3L448.8 1964.5L450.2 1962.1L451.7 1957.6L453.2 1959.2L454.6 1960.2L456.1 1953.0L457.5 1965.4L459.0 1961.4L460.5 1953.8L461.9 1969.1L463.4 1971.5L464.9 1953.6L466.3 1959.7L467.8 1956.0L469.3 1964.9L470.7 1953.0L472.2 1963.3L473.7 1962.6L475.1 1966.6L476.6 1949.9L478.0 1956.1L479.5 1959.1L481.0 1965.5L482.4 1960.6L483.9 1964.2L485.4 1962.5L486.8 1954.9L488.3 1959.2L489.8 1957.5L491.2 1957.9L492.7 1954.4L494.2 1963.6L495.6 1961.0L497.1 1948.6L498.5 1963.1L500.0 1955.8L501.5 1950.5L502.9 1965.3L504.4 1958.3L505.9 1960.2L507.3 1957.3L508.8 1957.6L510.3 1947.6L511.7 1961.5L513.2 1953.0L514.7 1956.9L516.1 1956.1L517.6 1950.9L519.0 1948.9L520.5 1954.6L522.0 1962.0L523.4 1951.0L524.9 1950.8L526.4 1954.1L527.8 1949.8L529.3 1959.4L530.8 1954.1L532.2 1964.2L533.7 1951.1L535.2 1960.7L536.6 1944.9L538.1 1947.9L539.5 1940.1L541.0 1942.1L542.5 1940.8L543.9 1943.3L545.4 1944.5L546.9 1935.0L548.3 1927.7L549.8 1930.5L551.3 1926.5L552.7 1921.6L554.2 1921.4L555.7 1916.9L557.1 1906.5L558.6 1900.2L560.0 1889.3L561.5 1885.0L563.0 1878.2L564.4 1865.2L565.9 1856.4L567.4 1843.8L568.8 1831.1L570.3 1818.7L571.8 1807.0L573.2 1799.4L574.7 1796.5L576.2 1798.6L577.6 1811.2L579.1 1835.5L580.6 1870.7L582.0 1914.5L583.5 1964.5L584.9 2014.2L586.4 2058.9L587.9 2092.5L589.3 2115.3L590.8 2126.8L592.3 2131.2L593.7 2124.8L595.2 2117.1L596.7 2104.9L598.1 2093.9L599.6 2081.7L601.1 2069.3L602.5 2053.8L604.0 2043.9L605.4 2032.2L606.9 2033.8L608.4 2020.0L609.8 2013.9L611.3 2009.3L612.8 2006.0L614.2 1998.8L615.7 1996.2L617.2 1992.6L618.6 1984.4L620.1 1994.6L621.6 1992.3L623.0 1982.6L624.5 1980.0L625.9 1988.2L627.4 1989.8L628.9 1976.4L630.3 1978.1L631.8 1971.7L633.3 1974.6L634.7 1958.3L636.2 1959.0L637.7 1972.9L639.1 1968.7L640.6 1971.3L642.1 1969.0L643.5 1971.3L645.0 1968.9L646.4 1966.1L647.9 1969.0L649.4 1962.6L650.8 1973.7L652.3 1960.1L653.8 1963.0L655.2 1969.9L656.7 1962.5L658.2 1969.6L659.6 1972.1L661.1 1968.1L662.6 1961.0L664.0 1973.9L665.5 1965.6L666.9 1957.4L668.4 1973.8L669.9 1963.3L671.3 1965.5L672.8 1966.9L674.3 1958.7L675.7 1966.4L677.2 1954.2L678.7 1955.4L680.1 1958.4L681.6 1972.5L683.1 1963.5L684.5 1966.3L686.0 1957.1L687.4 1962.2L688.9 1947.2L690.4 1957.2L691.8 1960.6L693.3 1954.7L694.8 1946.4L696.2 1947.9L697.7 1960.0L699.2 1963.4L700.6 1953.4L702.1 1963.6L703.6 1947.1L705.0 1956.9L706.5 1954.4L708.0 1957.5L709.4 1942.9L710.9 1955.2L712.3 1949.4L713.8 1943.1L715.3 1943.9L716.7 1943.6L718.2 1944.3L719.7 1937.1L721.1 1935.0L722.6 1936.8L724.1 1933.5L725.5 1932.4L727.0 1930.1L728.5 1917.1L729.9 1918.1L731.4 1913.7L732.8 1907.2L734.3 1897.9L735.8 1893.5L737.2 1885.9L738.7 1872.5L740.2 1860.0L741.6 1848.6L743.1 1833.2L744.6 1817.7L746.0 1801.8L747.5 1786.2L749.0 1773.9L750.4 1765.8L751.9 1766.4L753.3 1780.6L754.8 1807.1L756.3 1847.5L757.7 1898.5L759.2 1947.7L760.7 1989.0L762.1 2020.2L763.6 2038.3L765.1 2042.1L766.5 2038.2L768.0 2023.8L769.5 2004.1L770.9 1979.7L772.4 1955.5L773.8 1931.2L775.3 1908.6L776.8 1889.8L778.2 1877.6L779.7 1871.8L781.2 1882.7L782.6 1904.3L784.1 1938.3L785.6 1981.7L787.0 2031.0L788.5 2077.7L790.0 2114.1L791.4 2138.0L792.9 2146.6L794.3 2148.2L795.8 2140.0L797.3 2128.5L798.7 2115.2L800.2 2099.6L801.7 2084.0L803.1 2072.1L804.6 2060.4L806.1 2048.3L807.5 2040.1L809.0 2028.8L810.5 2022.2L811.9 2014.1L813.4 2007.6L814.8 2003.7L816.3 1996.7L817.8 1995.1L819.2 2000.6L820.7 1992.1L822.2 1985.7L823.6 1992.0L825.1 1989.0L826.6 1975.2L828.0 1975.2L829.5 1986.1L831.0 1976.4L832.4 1975.7L833.9 1970.9L835.4 1966.7L836.8 1978.1L838.3 1966.6L839.7 1973.2L841.2 1979.8L842.7 1971.9L844.1 1967.2L845.6 1971.3L847.1 1970.4L848.5 1964.3L850.0 1967.9L851.5 1959.2L852.9 1955.7L854.4 1962.1L855.9 1954.9L857.3 1960.9L858.8 1963.4L860.2 1964.8L861.7 1974.0L863.2 1958.0L864.6 1960.3L866.1 1960.0L867.6 1956.6L869.0 1973.5L870.5 1957.4L872.0 1960.1L873.4 1960.2L874.9 1974.7L876.4 1958.9L877.8 1956.0L879.3 1967.1L880.7 1956.0L882.2 1947.5L883.7 1965.6L885.1 1964.1L886.6 1950.4L888.1 1951.1L889.5 1957.5L891.0 1951.9L892.5 1948.3L893.9 1949.7L895.4 1966.1L896.9 1961.5L898.3 1949.0L899.8 1953.5L901.2 1954.4L902.7 1951.2L904.2 1952.2L905.6 1961.3L907.1 1947.3L908.6 1945.7L910.0 1948.6L911.5 1944.2L913.0 1944.3L914.4 1943.0L915.9 1938.8L917.4 1948.3L918.8 1937.3L920.3 1944.7L921.7 1932.5L923.2 1929.9L924.7 1932.1L926.1 1927.0L927.6 1927.5L929.1 1922.8L930.5 1923.0L932.0 1903.0L933.5 1902.6L934.9 1898.5L936.4 1890.7L937.9 1882.6L939.3 1877.3L940.8 1859.3L942.2 1851.5L943.7 1837.5L945.2 1824.0L946.6 1811.0L948.1 1796.7L949.6 1786.0L951.0 1779.1L952.5 1778.0L954.0 1783.5L955.4 1802.1L956.9 1831.1L958.4 1869.8L959.8 1913.8L961.3 1966.1L962.7 2010.3L964.2 2042.9L965.7 2061.1L967.1 2067.2L968.6 2057.6L970.1 2041.5L971.5 2019.1L973.0 1992.9L974.5 1963.9L975.9 1936.4L977.4 1911.0L978.9 1887.0L980.3 1869.8L981.8 1858.3L983.3 1859.0L984.7 1869.8L986.2 1893.2L987.6 1929.3L989.1 1973.9L990.6 2019.9L992.0 2060.3L993.5 2094.1L995.0 2119.5L996.4 2135.7L997.9 2141.5L999.4 2141.6L1000.8 2134.2L1002.3 2124.0L1003.8 2111.5L1005.2 2098.1L1006.7 2085.1L1008.1 2072.9L1009.6 2063.5L1011.1 2053.1L1012.5 2041.6L1014.0 2037.2L1015.5 2025.8L1016.9 2019.7L1018.4 2011.1L1019.9 2007.1L1021.3 2007.7L1022.8 2002.3L1024.3 1994.8L1025.7 1998.8L1027.2 1990.8L1028.6 1988.8L1030.1 1991.0L1031.6 1986.2L1033.0 1980.5L1034.5 1975.2L1036.0 1985.6L1037.4 1965.3L1038.9 1973.0L1040.4 1965.8L1041.8 1970.9L1043.3 1977.8L1044.8 1970.4L1046.2 1969.1L1047.7 1970.4L1049.1 1980.9L1050.6 1977.1L1052.1 1970.1L1053.5 1964.6L1055.0 1965.5L1056.5 1969.2L1057.9 1965.4L1059.4 1965.7L1060.9 1960.0L1062.3 1957.9L1063.8 1959.0L1065.3 1966.2L1066.7 1959.3L1068.2 1978.5L1069.6 1967.0L1071.1 1967.3L1072.6 1968.9L1074.0 1957.1L1075.5 1956.1L1077.0 1961.1L1078.4 1965.5L1079.9 1965.0L1081.4 1970.9L1082.8 1969.3L1084.3 1967.0L1085.8 1967.3L1087.2 1962.1L1088.7 1965.1L1090.1 1958.4L1091.6 1957.3L1093.1 1964.6L1094.5 1949.7L1096.0 1966.4L1097.5 1968.6L1098.9 1955.0L1100.4 1961.5L1101.9 1957.7L1103.3 1950.8L1104.8 1957.7L1106.3 1957.9L1107.7 1959.9L1109.2 1951.7L1110.7 1953.4L1112.1 1948.5L1113.6 1956.0L1115.0 1949.0L1116.5 1952.7L1118.0 1943.5L1119.4 1945.9L1120.9 1939.3L1122.4 1938.2L1123.8 1944.5L1125.3 1936.3L1126.8 1934.0L1128.2 1934.1L1129.7 1925.0L1131.2 1930.2L1132.6 1917.2L1134.1 1913.4L1135.5 1914.2L1137.0 1898.5L1138.5 1898.6L1139.9 1887.6L1141.4 1878.6L1142.9 1866.1L1144.3 1856.7L1145.8 1843.0L1147.3 1832.9L1148.7 1819.3L1150.2 1807.5L1151.7 1798.3L1153.1 1793.1L1154.6 1794.8L1156.0 1803.5L1157.5 1822.6L1159.0 1853.3L1160.4 1894.1L1161.9 1942.4L1163.4 1990.2L1164.8 2033.1L1166.3 2069.1L1167.8 2096.2L1169.2 2112.2L1170.7 2120.0L1172.2 2118.9L1173.6 2113.5L1175.1 2104.7L1176.5 2094.1L1178.0 2081.4L1179.5 2071.0L1180.9 2058.3L1182.4 2047.1L1183.9 2040.2L1185.3 2033.8L1186.8 2027.2L1188.3 2017.4L1189.7 2007.2L1191.2 2007.6L1192.7 2001.5L1194.1 2000.3L1195.6 1998.7L1197.0 1989.8L1198.5 1985.8L1200.0 1984.7L1201.4 1981.1L1202.9 1977.5L1204.4 1981.6L1205.8 1975.3L1207.3 1976.2L1208.8 1974.7L1210.2 1972.1L1211.7 1977.5L1213.2 1970.9L1214.6 1972.1L1216.1 1976.1L1217.5 1970.3L1219.0 1962.5L1220.5 1967.3L1221.9 1966.7L1223.4 1972.4L1224.9 1977.7L1226.3 1969.1L1227.8 1966.9L1229.3 1975.5L1230.7 1963.1L1232.2 1968.4L1233.7 1969.1L1235.1 1965.9L1236.6 1964.9L1238.1 1966.7L1239.5 1974.0L1241.0 1968.6L1242.4 1961.9L1243.9 1966.6L1245.4 1970.2L1246.8 1974.7L1248.3 1969.1L1249.8 1965.6L1251.2 1972.1L1252.7 1969.2L1254.2 1965.0L1255.6 1960.4L1257.1 1964.4L1258.6 1969.2L1260.0 1957.8L1261.5 1954.8L1262.9 1966.5L1264.4 1955.0L1265.9 1956.2L1267.3 1962.3L1268.8 1962.0L1270.3 1963.6L1271.7 1964.1L1273.2 1966.1L1274.7 1962.5L1276.1 1958.4L1277.6 1947.2L1279.1 1969.8L1280.5 1967.3L1282.0 1966.3L1283.4 1962.6L1284.9 1957.8L1286.4 1965.4L1287.8 1962.2L1289.3 1955.0L1290.8 1968.3L1292.2 1954.6L1293.7 1960.1L1295.2 1972.3L1296.6 1957.9L1298.1 1963.4L1299.6 1968.3L1301.0 1962.4L1302.5 1954.5L1303.9 1959.5L1305.4 1962.0L1306.9 1953.9L1308.3 1970.2L1309.8 1964.0L1311.3 1966.1L1312.7 1963.6L1314.2 1964.2L1315.7 1960.1L1317.1 1953.9L1318.6 1965.8L1320.1 1962.2L1321.5 1970.7L1323.0 1955.5L1324.4 1962.9L1325.9 1974.1L1327.4 1954.5L1328.8 1955.3L1330.3 1963.2L1331.8 1971.3L1333.2 1955.2L1334.7 1962.2L1336.2 1960.8L1337.6 1958.7L1339.1 1960.4L1340.6 1968.6L1342.0 1962.5L1343.5 1954.4L1344.9 1958.3L1346.4 1962.3L1347.9 1953.9L1349.3 1957.8L1350.8 1959.4L1352.3 1949.9L1353.7 1972.0L1355.2 1952.6L1356.7 1962.0L1358.1 1960.6L1359.6 1958.2L1361.1 1968.4L1362.5 1961.9L1364.0 1956.9L1365.5 1968.1L1366.9 1964.7L1368.4 1955.8L1369.8 1953.0L1371.3 1966.5L1372.8 1960.8L1374.2 1953.4L1375.7 1964.6L1377.2 1953.5L1378.6 1957.7L1380.1 1956.9L1381.6 1950.4L1383.0 1965.4L1384.5 1981.1L1386.0 1965.1L1387.4 1963.8L1388.9 1960.1L1390.3 1961.2L1391.8 1963.1L1393.3 1965.0L1394.7 1958.7L1396.2 1961.8L1397.7 1960.4L1399.1 1964.7L1400.6 1966.9L1402.1 1967.8L1403.5 1959.2L1405.0 1959.0L1406.5 1965.6L1407.9 1960.3L1409.4 1960.5L1410.8 1964.4L1412.3 1963.9L1413.8 1969.2L1415.2 1955.0L1416.7 1968.1L1418.2 1959.2L1419.6 1965.7L1421.1 1954.6L1422.6 1961.2L1424.0 1958.4L1425.5 1971.8L1427.0 1956.6L1428.4 1968.3L1429.9 1957.4L1431.3 1955.7L1432.8 1963.7L1434.3 1967.9L1435.7 1961.6L1437.2 1965.3L1438.7 1963.3L1440.1 1961.6L1441.6 1969.8L1443.1 1962.0L1444.5 1966.9L1446.0 1955.5L1447.5 1961.0L1448.9 1967.3L1450.4 1959.4L1451.8 1950.0L1453.3 1966.3L1454.8 1965.3L1456.2 1960.4L1457.7 1962.7L1459.2 1960.2L1460.6 1964.2L1462.1 1968.3L1463.6 1963.8L1465.0 1961.6L1466.5 1959.4L1468.0 1961.2L1469.4 1959.3L1470.9 1967.6L1472.3 1956.2L1473.8 1958.9L1475.3 1964.1L1476.7 1964.0L1478.2 1963.6L1479.7 1959.8L1481.1 1963.3L1482.6 1954.1L1484.1 1953.6L1485.5 1955.0L1487.0 1964.3L1488.5 1969.8L1489.9 1959.8L1491.4 1959.1L1492.8 1960.6L1494.3 1972.4L1495.8 1963.4L1497.2 1962.8L1498.7 1959.1L1500.2 1965.1L1501.6 1969.6L1503.1 1963.4L1504.6 1957.8L1506.0 1969.7L1507.5 1962.2L1509.0 1972.3L1510.4 1956.4L1511.9 1961.5L1513.4 1963.8L1514.8 1952.5L1516.3 1962.8L1517.7 1965.7L1519.2 1961.6L1520.7 1964.8L1522.1 1963.3L1523.6 1957.5L1525.1 1966.3L1526.5 1958.1L1528.0 1960.6L1529.5 1958.1L1530.9 1965.8L1532.4 1959.6L1533.9 1959.6L1535.3 1950.2L1536.8 1960.6L1538.2 1967.8L1539.7 1950.5L1541.2 1964.2L1542.6 1961.9L1544.1 1952.5L1545.6 1959.8L1547.0 1967.5L1548.5 1962.1L1550.0 1964.1L1551.4 1968.3L1552.9 1960.3L1554.4 1967.0L1555.8 1955.2L1557.3 1957.3L1558.7 1970.2L1560.2 1969.7L1561.7 1967.4L1563.1 1953.8L1564.6 1960.9L1566.1 1957.2L1567.5 1972.9L1569.0 1954.7L1570.5 1955.1L1571.9 1958.9L1573.4 1964.1L1574.9 1959.0L1576.3 1960.6L1577.8 1963.9L1579.2 1962.4L1580.7 1951.8L1582.2 1955.3L1583.6 1971.4L1585.1 1962.5L1586.6 1972.4L1588.0 1970.4L1589.5 1968.5L1591.0 1962.7L1592.4 1970.9L1593.9 1959.8L1595.4 1974.8L1596.8 1965.7L1598.3 1965.7L1599.7 1960.3L1601.2 1959.3L1602.7 1961.1L1604.1 1959.6L1605.6 1957.7L1607.1 1956.6L1608.5 1963.7L1610.0 1969.2L1611.5 1973.5L1612.9 1966.9L1614.4 1962.1L1615.9 1966.1L1617.3 1972.2L1618.8 1963.5L1620.2 1968.3L1621.7 1964.9L1623.2 1963.5L1624.6 1959.6L1626.1 1966.7L1627.6 1958.2L1629.0 1957.2L1630.5 1964.7" stroke="#ff0000" stroke-width="8.2"/>
</g>
<line x1="167.60" y1="2636.00" x2="167.60" y2="2656.20" stroke="#000" stroke-width="7.2"/>
<line x1="313.89" y1="2636.00" x2="313.89" y2="2646.10" stroke="#000" stroke-width="7.2"/>
<line x1="460.18" y1="2636.00" x2="460.18" y2="2656.20" stroke="#000" stroke-width="7.2"/>
<line x1="606.47" y1="2636.00" x2="606.47" y2="2646.10" stroke="#000" stroke-width="7.2"/>
<line x1="752.76" y1="2636.00" x2="752.76" y2="2656.20" stroke="#000" stroke-width="7.2"/>
<line x1="899.05" y1="2636.00" x2="899.05" y2="2646.10" stroke="#000" stroke-width="7.2"/>
<line x1="1045.34" y1="2636.00" x2="1045.34" y2="2656.20" stroke="#000" stroke-width="7.2"/>
<line x1="1191.63" y1="2636.00" x2="1191.63" y2="2646.10" stroke="#000" stroke-width="7.2"/>
<line x1="1337.92" y1="2636.00" x2="1337.92" y2="2656.20" stroke="#000" stroke-width="7.2"/>
<line x1="1484.21" y1="2636.00" x2="1484.21" y2="2646.10" stroke="#000" stroke-width="7.2"/>
<line x1="1630.50" y1="2636.00" x2="1630.50" y2="2656.20" stroke="#000" stroke-width="7.2"/>
<rect x="167.60" y="1559.90" width="1462.90" height="1076.10" fill="none" stroke="#000" stroke-width="7.6"/>
<text x="167.6" y="2734.5" font-size="82.3" text-anchor="middle">3460</text>
<text x="460.2" y="2734.5" font-size="82.3" text-anchor="middle">3480</text>
<text x="752.8" y="2734.5" font-size="82.3" text-anchor="middle">3500</text>
<text x="1045.3" y="2734.5" font-size="82.3" text-anchor="middle">3520</text>
<text x="1337.9" y="2734.5" font-size="82.3" text-anchor="middle">3540</text>
<text x="1630.5" y="2734.5" font-size="82.3" text-anchor="middle">3560</text>
<text x="899.5" y="2837.5" font-size="85.5" text-anchor="middle">Magnetic Field (G)</text>
<text transform="translate(95.0 2123.0) rotate(-90)" font-size="86.2" text-anchor="middle">Intensity (a.u.)</text>
<g clip-path="url(#cc)" fill="none" stroke-linejoin="round" stroke-linecap="butt">
<path d="M179.5 3934.5L181.0 3939.8L182.4 3941.1L183.9 3938.2L185.3 3936.2L186.8 3937.7L188.3 3937.9L189.7 3929.7L191.2 3942.7L192.6 3936.9L194.1 3944.2L195.5 3936.9L197.0 3933.6L198.5 3939.8L199.9 3937.0L201.4 3940.1L202.8 3935.0L204.3 3935.0L205.8 3934.1L207.2 3934.1L208.7 3938.3L210.1 3931.9L211.6 3937.3L213.0 3940.8L214.5 3933.0L216.0 3935.8L217.4 3933.7L218.9 3935.2L220.3 3937.2L221.8 3939.2L223.3 3939.9L224.7 3934.1L226.2 3939.1L227.6 3934.2L229.1 3932.2L230.5 3932.9L232.0 3929.2L233.5 3936.7L234.9 3929.6L236.4 3937.3L237.8 3946.5L239.3 3933.0L240.8 3928.6L242.2 3937.9L243.7 3932.6L245.1 3936.4L246.6 3936.5L248.0 3937.4L249.5 3945.2L251.0 3937.7L252.4 3937.6L253.9 3936.2L255.3 3933.8L256.8 3934.2L258.3 3932.6L259.7 3939.9L261.2 3936.0L262.6 3939.2L264.1 3937.9L265.5 3945.1L267.0 3936.3L268.5 3939.0L269.9 3934.4L271.4 3941.1L272.8 3936.0L274.3 3936.9L275.8 3931.6L277.2 3938.9L278.7 3943.1L280.1 3942.0L281.6 3932.7L283.0 3940.2L284.5 3934.2L286.0 3930.6L287.4 3932.1L288.9 3941.6L290.3 3935.7L291.8 3932.2L293.3 3938.2L294.7 3938.1L296.2 3935.7L297.6 3938.7L299.1 3935.5L300.5 3941.6L302.0 3939.8L303.5 3936.6L304.9 3938.2L306.4 3940.3L307.8 3936.4L309.3 3938.8L310.8 3936.4L312.2 3935.6L313.7 3929.5L315.1 3932.0L316.6 3932.9L318.0 3936.9L319.5 3946.7L321.0 3933.1L322.4 3935.0L323.9 3931.7L325.3 3935.1L326.8 3935.7L328.3 3939.2L329.7 3931.3L331.2 3938.5L332.6 3937.5L334.1 3935.4L335.5 3931.8L337.0 3932.5L338.5 3935.8L339.9 3938.7L341.4 3936.2L342.8 3933.7L344.3 3937.6L345.8 3932.6L347.2 3939.6L348.7 3947.8L350.1 3934.4L351.6 3940.5L353.0 3932.9L354.5 3936.9L356.0 3938.6L357.4 3941.2L358.9 3936.7L360.3 3941.8L361.8 3931.8L363.3 3935.8L364.7 3936.6L366.2 3937.0L367.6 3936.2L369.1 3943.7L370.5 3935.2L372.0 3940.5L373.5 3938.3L374.9 3944.5L376.4 3935.9L377.8 3939.5L379.3 3938.9L380.8 3924.4L382.2 3938.3L383.7 3940.7L385.1 3942.6L386.6 3932.7L388.0 3936.0L389.5 3941.5L391.0 3932.5L392.4 3933.7L393.9 3939.1L395.3 3939.5L396.8 3942.0L398.3 3941.2L399.7 3937.7L401.2 3932.9L402.6 3934.4L404.1 3936.9L405.5 3938.3L407.0 3937.1L408.5 3940.0L409.9 3934.0L411.4 3935.3L412.8 3932.0L414.3 3944.6L415.8 3936.3L417.2 3940.7L418.7 3941.8L420.1 3938.3L421.6 3936.3L423.0 3935.1L424.5 3936.0L426.0 3930.4L427.4 3934.9L428.9 3939.9L430.3 3938.1L431.8 3940.2L433.3 3940.1L434.7 3939.7L436.2 3937.4L437.6 3937.7L439.1 3940.5L440.5 3935.6L442.0 3931.8L443.5 3940.2L444.9 3937.1L446.4 3941.1L447.8 3934.5L449.3 3930.6L450.8 3936.3L452.2 3934.5L453.7 3933.3L455.1 3942.9L456.6 3938.0L458.0 3932.4L459.5 3930.8L461.0 3936.5L462.4 3939.2L463.9 3938.0L465.3 3941.4L466.8 3938.2L468.3 3938.8L469.7 3929.7L471.2 3941.9L472.6 3934.9L474.1 3940.5L475.5 3931.0L477.0 3933.5L478.5 3941.5L479.9 3932.2L481.4 3937.6L482.8 3935.5L484.3 3943.6L485.8 3938.5L487.2 3941.9L488.7 3936.9L490.1 3930.5L491.6 3944.8L493.0 3934.8L494.5 3937.2L496.0 3936.8L497.4 3931.0L498.9 3939.7L500.3 3935.5L501.8 3930.2L503.3 3931.3L504.7 3928.2L506.2 3933.9L507.6 3936.1L509.1 3933.2L510.5 3936.7L512.0 3935.5L513.5 3938.8L514.9 3936.8L516.4 3936.1L517.8 3933.7L519.3 3932.2L520.8 3933.3L522.2 3938.2L523.7 3934.9L525.1 3942.4L526.6 3939.9L528.0 3931.5L529.5 3938.4L531.0 3941.5L532.4 3934.2L533.9 3941.4L535.3 3933.9L536.8 3942.8L538.3 3938.8L539.7 3935.9L541.2 3930.3L542.6 3936.3L544.1 3933.8L545.5 3938.1L547.0 3933.3L548.5 3938.5L549.9 3934.9L551.4 3939.0L552.8 3939.9L554.3 3937.4L555.8 3938.6L557.2 3941.0L558.7 3933.1L560.1 3939.0L561.6 3937.7L563.0 3942.9L564.5 3936.1L566.0 3940.5L567.4 3930.2L568.9 3941.5L570.3 3938.4L571.8 3938.2L573.3 3940.2L574.7 3931.9L576.2 3935.9L577.6 3937.1L579.1 3935.6L580.5 3934.8L582.0 3940.4L583.5 3936.9L584.9 3935.8L586.4 3936.9L587.8 3941.8L589.3 3943.9L590.8 3940.9L592.2 3938.7L593.7 3931.6L595.1 3934.6L596.6 3933.2L598.0 3933.1L599.5 3941.3L601.0 3934.4L602.4 3942.0L603.9 3937.2L605.3 3936.2L606.8 3936.0L608.3 3931.3L609.7 3935.2L611.2 3940.0L612.6 3939.4L614.1 3937.3L615.5 3939.4L617.0 3937.3L618.5 3938.3L619.9 3946.0L621.4 3937.3L622.8 3930.1L624.3 3928.6L625.8 3933.9L627.2 3937.6L628.7 3940.5L630.1 3936.7L631.6 3937.3L633.0 3939.1L634.5 3933.0L636.0 3936.6L637.4 3938.0L638.9 3935.2L640.3 3933.6L641.8 3938.8L643.3 3941.0L644.7 3937.0L646.2 3927.8L647.6 3933.7L649.1 3935.1L650.5 3938.4L652.0 3934.9L653.5 3935.1L654.9 3940.4L656.4 3941.5L657.8 3937.0L659.3 3932.5L660.8 3932.0L662.2 3939.1L663.7 3933.7L665.1 3936.5L666.6 3935.9L668.1 3937.2L669.5 3937.9L671.0 3932.6L672.4 3934.1L673.9 3937.3L675.3 3936.7L676.8 3931.4L678.3 3943.9L679.7 3931.2L681.2 3940.5L682.6 3930.3L684.1 3940.2L685.6 3929.8L687.0 3940.0L688.5 3937.2L689.9 3939.6L691.4 3933.7L692.8 3937.5L694.3 3937.4L695.8 3937.1L697.2 3934.4L698.7 3941.7L700.1 3929.6L701.6 3930.6L703.1 3930.9L704.5 3941.9L706.0 3933.1L707.4 3933.7L708.9 3933.7L710.3 3935.3L711.8 3935.5L713.3 3934.6L714.7 3930.7L716.2 3938.1L717.6 3936.5L719.1 3942.3L720.6 3938.1L722.0 3936.2L723.5 3931.0L724.9 3936.8L726.4 3938.8L727.8 3942.9L729.3 3938.0L730.8 3939.6L732.2 3938.8L733.7 3942.8L735.1 3940.9L736.6 3936.7L738.1 3931.0L739.5 3942.8L741.0 3936.9L742.4 3933.5L743.9 3931.0L745.3 3929.8L746.8 3937.5L748.3 3935.9L749.7 3937.7L751.2 3941.2L752.6 3934.2L754.1 3937.7L755.6 3934.5L757.0 3933.2L758.5 3928.0L759.9 3933.5L761.4 3940.7L762.8 3934.6L764.3 3937.7L765.8 3937.0L767.2 3944.3L768.7 3942.2L770.1 3934.1L771.6 3934.9L773.1 3941.0L774.5 3937.5L776.0 3937.0L777.4 3941.1L778.9 3938.8L780.3 3937.2L781.8 3948.3L783.3 3938.2L784.7 3931.5L786.2 3938.0L787.6 3937.7L789.1 3943.2L790.6 3938.0L792.0 3934.3L793.5 3938.1L794.9 3932.0L796.4 3935.3L797.8 3938.1L799.3 3933.4L800.8 3928.9L802.2 3932.6L803.7 3933.5L805.1 3938.8L806.6 3934.8L808.1 3936.3L809.5 3932.9L811.0 3936.8L812.4 3934.1L813.9 3938.7L815.3 3937.4L816.8 3942.0L818.3 3938.7L819.7 3935.2L821.2 3933.1L822.6 3937.2L824.1 3939.2L825.6 3942.4L827.0 3934.3L828.5 3931.4L829.9 3929.4L831.4 3932.5L832.8 3935.6L834.3 3935.3L835.8 3935.1L837.2 3936.1L838.7 3937.6L840.1 3929.8L841.6 3936.4L843.1 3935.6L844.5 3935.6L846.0 3934.6L847.4 3929.1L848.9 3938.0L850.3 3934.4L851.8 3935.7L853.3 3937.4L854.7 3936.3L856.2 3937.8L857.6 3937.8L859.1 3932.7L860.6 3931.8L862.0 3939.3L863.5 3933.2L864.9 3944.4L866.4 3932.0L867.8 3936.8L869.3 3935.9L870.8 3937.2L872.2 3932.6L873.7 3937.4L875.1 3943.8L876.6 3934.1L878.1 3927.7L879.5 3938.6L881.0 3937.7L882.4 3938.7L883.9 3933.1L885.3 3937.7L886.8 3939.5L888.3 3934.3L889.7 3936.3L891.2 3938.1L892.6 3939.0L894.1 3935.2L895.6 3936.9L897.0 3943.7L898.5 3943.8L899.9 3932.1L901.4 3944.4L902.8 3934.7L904.3 3940.2L905.8 3931.4L907.2 3935.4L908.7 3933.6L910.1 3939.2L911.6 3936.9L913.1 3937.8L914.5 3937.6L916.0 3936.9L917.4 3939.6L918.9 3936.5L920.3 3935.8L921.8 3933.7L923.3 3932.6L924.7 3934.0L926.2 3937.5L927.6 3939.9L929.1 3935.6L930.6 3943.6L932.0 3940.8L933.5 3936.2L934.9 3937.4L936.4 3936.0L937.8 3929.1L939.3 3939.2L940.8 3936.9L942.2 3929.7L943.7 3939.4L945.1 3933.9L946.6 3935.1L948.1 3929.5L949.5 3935.9L951.0 3937.6L952.4 3934.4L953.9 3936.0L955.3 3928.8L956.8 3938.0L958.3 3935.8L959.7 3935.8L961.2 3938.5L962.6 3939.9L964.1 3935.7L965.6 3939.4L967.0 3942.9L968.5 3931.8L969.9 3936.3L971.4 3929.8L972.8 3937.3L974.3 3941.2L975.8 3935.4L977.2 3931.6L978.7 3933.9L980.1 3937.5L981.6 3930.2L983.1 3930.6L984.5 3937.7L986.0 3930.7L987.4 3936.2L988.9 3931.9L990.3 3929.8L991.8 3939.0L993.3 3940.2L994.7 3933.0L996.2 3944.7L997.6 3936.6L999.1 3938.0L1000.6 3936.7L1002.0 3931.9L1003.5 3940.0L1004.9 3936.6L1006.4 3938.0L1007.8 3936.7L1009.3 3934.6L1010.8 3945.1L1012.2 3937.8L1013.7 3935.3L1015.1 3938.7L1016.6 3931.5L1018.1 3937.5L1019.5 3946.5L1021.0 3933.6L1022.4 3938.0L1023.9 3931.6L1025.3 3936.3L1026.8 3940.4L1028.3 3932.3L1029.7 3932.6L1031.2 3940.6L1032.6 3937.2L1034.1 3938.7L1035.6 3938.2L1037.0 3931.2L1038.5 3929.6L1039.9 3928.9L1041.4 3938.1L1042.8 3930.7L1044.3 3929.3L1045.8 3934.0L1047.2 3935.6L1048.7 3937.1L1050.1 3929.2L1051.6 3941.2L1053.1 3932.5L1054.5 3936.7L1056.0 3935.9L1057.4 3932.3L1058.9 3937.6L1060.3 3937.4L1061.8 3940.5L1063.3 3943.5L1064.7 3944.4L1066.2 3939.8L1067.6 3938.8L1069.1 3934.8L1070.6 3930.4L1072.0 3937.8L1073.5 3934.0L1074.9 3935.2L1076.4 3934.4L1077.8 3937.8L1079.3 3934.6L1080.8 3945.4L1082.2 3939.6L1083.7 3934.3L1085.1 3937.7L1086.6 3941.6L1088.1 3931.7L1089.5 3937.1L1091.0 3934.2L1092.4 3936.5L1093.9 3934.4L1095.3 3937.0L1096.8 3938.0L1098.3 3938.7L1099.7 3930.6L1101.2 3939.0L1102.6 3936.4L1104.1 3933.8L1105.6 3936.1L1107.0 3942.5L1108.5 3935.7L1109.9 3933.0L1111.4 3939.1L1112.8 3935.6L1114.3 3939.1L1115.8 3937.4L1117.2 3941.7L1118.7 3934.0L1120.1 3934.9L1121.6 3940.6L1123.1 3943.0L1124.5 3937.2L1126.0 3941.1L1127.4 3938.3L1128.9 3936.5L1130.3 3930.0L1131.8 3944.6L1133.3 3941.0L1134.7 3927.7L1136.2 3939.5L1137.6 3934.1L1139.1 3932.5L1140.6 3934.2L1142.0 3939.3L1143.5 3936.2L1144.9 3935.6L1146.4 3935.8L1147.8 3934.9L1149.3 3938.4L1150.8 3928.5L1152.2 3931.2L1153.7 3935.7L1155.1 3931.8L1156.6 3937.0L1158.1 3934.9L1159.5 3937.9L1161.0 3935.7L1162.4 3938.7L1163.9 3936.4L1165.4 3939.2L1166.8 3935.1L1168.3 3929.7L1169.7 3936.5L1171.2 3936.6L1172.6 3934.6L1174.1 3940.4L1175.6 3938.6L1177.0 3942.5L1178.5 3935.2L1179.9 3935.1L1181.4 3938.6L1182.9 3942.4L1184.3 3934.0L1185.8 3938.6L1187.2 3936.6L1188.7 3935.5L1190.1 3940.2L1191.6 3940.1L1193.1 3939.5L1194.5 3934.2L1196.0 3936.7L1197.4 3930.3L1198.9 3938.8L1200.4 3931.8L1201.8 3935.7L1203.3 3940.0L1204.7 3935.9L1206.2 3937.4L1207.6 3934.2L1209.1 3946.8L1210.6 3932.1L1212.0 3934.6L1213.5 3936.3L1214.9 3947.0L1216.4 3934.7L1217.9 3937.1L1219.3 3940.0L1220.8 3928.8L1222.2 3940.4L1223.7 3938.4L1225.1 3942.9L1226.6 3943.0L1228.1 3939.1L1229.5 3941.4L1231.0 3934.7L1232.4 3932.8L1233.9 3936.3L1235.4 3938.0L1236.8 3936.0L1238.3 3938.9L1239.7 3939.7L1241.2 3944.0L1242.6 3936.7L1244.1 3935.5L1245.6 3939.1L1247.0 3938.2L1248.5 3939.6L1249.9 3943.9L1251.4 3934.2L1252.9 3940.2L1254.3 3942.6L1255.8 3942.3L1257.2 3931.7L1258.7 3936.2L1260.1 3942.3L1261.6 3937.4L1263.1 3939.1L1264.5 3937.0L1266.0 3942.3L1267.4 3938.3L1268.9 3936.3L1270.4 3937.7L1271.8 3942.7L1273.3 3938.9L1274.7 3931.1L1276.2 3929.3L1277.6 3939.9L1279.1 3930.8L1280.6 3937.7L1282.0 3934.3L1283.5 3937.9L1284.9 3934.2L1286.4 3927.9L1287.9 3942.3L1289.3 3936.7L1290.8 3936.2L1292.2 3942.8L1293.7 3939.5L1295.1 3941.0L1296.6 3936.0L1298.1 3937.2L1299.5 3938.5L1301.0 3934.4L1302.4 3939.9L1303.9 3938.4L1305.4 3935.6L1306.8 3935.2L1308.3 3940.1L1309.7 3936.1L1311.2 3938.3L1312.6 3937.8L1314.1 3936.0L1315.6 3924.4L1317.0 3938.1L1318.5 3939.8L1319.9 3934.3L1321.4 3934.2L1322.9 3940.1L1324.3 3932.2L1325.8 3941.5L1327.2 3938.9L1328.7 3942.0L1330.1 3936.6L1331.6 3937.2L1333.1 3937.9L1334.5 3930.9L1336.0 3933.4L1337.4 3941.0L1338.9 3934.2L1340.4 3933.1L1341.8 3938.0L1343.3 3942.0L1344.7 3936.6L1346.2 3935.8L1347.6 3936.7L1349.1 3938.4L1350.6 3930.8L1352.0 3938.2L1353.5 3938.4L1354.9 3940.8L1356.4 3940.9L1357.9 3939.3L1359.3 3944.5L1360.8 3936.9L1362.2 3936.5L1363.7 3943.1L1365.1 3937.4L1366.6 3934.7L1368.1 3934.8L1369.5 3936.9L1371.0 3931.8L1372.4 3940.7L1373.9 3938.1L1375.4 3941.8L1376.8 3933.0L1378.3 3935.6L1379.7 3934.5L1381.2 3938.9L1382.6 3938.4L1384.1 3939.8L1385.6 3939.6L1387.0 3932.8L1388.5 3938.0L1389.9 3937.2L1391.4 3936.8L1392.9 3938.8L1394.3 3929.7L1395.8 3934.3L1397.2 3935.8L1398.7 3933.7L1400.1 3932.4L1401.6 3940.3L1403.1 3940.1L1404.5 3943.2L1406.0 3933.2L1407.4 3928.0L1408.9 3939.2L1410.4 3935.4L1411.8 3932.6L1413.3 3938.6L1414.7 3936.3L1416.2 3930.0L1417.6 3936.9L1419.1 3930.3L1420.6 3938.5L1422.0 3931.7L1423.5 3930.7L1424.9 3939.1L1426.4 3940.0L1427.9 3935.5L1429.3 3932.1L1430.8 3938.7L1432.2 3936.9L1433.7 3937.3L1435.1 3934.9L1436.6 3930.7L1438.1 3934.6L1439.5 3941.8L1441.0 3933.9L1442.4 3936.0L1443.9 3936.2L1445.4 3939.9L1446.8 3937.4L1448.3 3934.8L1449.7 3943.5L1451.2 3937.0L1452.6 3937.5L1454.1 3933.9L1455.6 3930.7L1457.0 3938.1L1458.5 3935.1L1459.9 3937.6L1461.4 3928.0L1462.9 3942.7L1464.3 3936.6L1465.8 3939.4L1467.2 3932.4L1468.7 3936.8L1470.1 3937.0L1471.6 3940.6L1473.1 3939.4L1474.5 3928.8L1476.0 3937.2L1477.4 3936.9L1478.9 3935.2L1480.4 3937.3L1481.8 3938.6L1483.3 3940.0L1484.7 3932.2L1486.2 3933.3L1487.6 3936.6L1489.1 3938.9L1490.6 3932.8L1492.0 3936.5L1493.5 3931.7L1494.9 3936.6L1496.4 3935.8L1497.9 3938.4L1499.3 3941.6L1500.8 3933.5L1502.2 3938.1L1503.7 3930.6L1505.1 3937.6L1506.6 3943.1L1508.1 3930.7L1509.5 3934.6L1511.0 3924.6L1512.4 3938.1L1513.9 3944.7L1515.4 3933.0L1516.8 3937.8L1518.3 3941.7L1519.7 3933.6L1521.2 3937.3L1522.6 3933.6L1524.1 3934.7L1525.6 3936.6L1527.0 3939.9L1528.5 3937.4L1529.9 3936.4L1531.4 3935.9L1532.9 3940.7L1534.3 3938.5L1535.8 3938.1L1537.2 3929.6L1538.7 3935.8L1540.1 3932.6L1541.6 3943.2L1543.1 3939.1L1544.5 3942.1L1546.0 3933.5L1547.4 3930.8L1548.9 3933.6L1550.4 3939.0L1551.8 3934.0L1553.3 3939.4L1554.7 3941.8L1556.2 3935.4L1557.6 3940.4L1559.1 3928.3L1560.6 3932.0L1562.0 3934.4L1563.5 3935.4L1564.9 3931.3L1566.4 3935.3L1567.9 3940.6L1569.3 3939.9L1570.8 3938.3L1572.2 3933.2L1573.7 3942.1L1575.1 3939.2L1576.6 3932.9L1578.1 3940.4L1579.5 3935.4L1581.0 3938.8L1582.4 3938.2L1583.9 3939.0L1585.4 3942.4L1586.8 3946.3L1588.3 3938.3L1589.7 3937.3L1591.2 3936.7L1592.6 3938.6L1594.1 3939.1L1595.6 3931.9L1597.0 3937.3L1598.5 3945.6L1599.9 3939.9L1601.4 3941.1L1602.9 3936.8L1604.3 3945.2L1605.8 3939.2L1607.2 3935.8L1608.7 3934.1L1610.1 3938.8L1611.6 3943.7L1613.1 3934.5L1614.5 3933.2L1616.0 3928.2L1617.4 3939.6L1618.9 3932.8L1620.4 3934.1L1621.8 3932.9L1623.3 3933.5L1624.7 3939.8L1626.2 3933.9L1627.6 3937.5L1629.1 3934.0L1630.6 3935.4L1632.0 3939.3L1633.5 3939.3L1634.9 3932.4L1636.4 3936.9" stroke="#36c16e" stroke-width="8.2"/>
<path d="M179.5 3458.7L181.0 3463.6L182.4 3465.7L183.9 3466.4L185.3 3467.5L186.8 3467.2L188.3 3458.0L189.7 3464.3L191.2 3456.5L192.6 3467.7L194.1 3465.4L195.5 3467.6L197.0 3464.0L198.5 3463.8L199.9 3461.7L201.4 3452.9L202.8 3463.1L204.3 3474.0L205.8 3468.9L207.2 3463.0L208.7 3465.1L210.1 3465.6L211.6 3461.6L213.0 3463.9L214.5 3465.2L216.0 3461.9L217.4 3465.7L218.9 3468.7L220.3 3467.2L221.8 3465.0L223.3 3463.2L224.7 3466.8L226.2 3461.8L227.6 3461.4L229.1 3468.9L230.5 3462.5L232.0 3458.6L233.5 3467.3L234.9 3466.8L236.4 3468.4L237.8 3463.6L239.3 3468.4L240.8 3463.4L242.2 3460.0L243.7 3463.3L245.1 3465.0L246.6 3459.7L248.0 3463.3L249.5 3465.0L251.0 3462.3L252.4 3464.3L253.9 3463.9L255.3 3460.9L256.8 3465.3L258.3 3466.3L259.7 3456.2L261.2 3461.4L262.6 3467.2L264.1 3465.8L265.5 3456.7L267.0 3465.0L268.5 3469.6L269.9 3467.5L271.4 3467.1L272.8 3463.7L274.3 3464.4L275.8 3459.7L277.2 3464.2L278.7 3473.2L280.1 3464.1L281.6 3460.6L283.0 3466.2L284.5 3456.2L286.0 3473.1L287.4 3466.6L288.9 3463.2L290.3 3462.8L291.8 3460.7L293.3 3464.7L294.7 3464.4L296.2 3458.2L297.6 3468.1L299.1 3462.8L300.5 3460.0L302.0 3467.9L303.5 3467.2L304.9 3462.0L306.4 3461.7L307.8 3468.5L309.3 3462.7L310.8 3465.1L312.2 3469.6L313.7 3459.6L315.1 3458.4L316.6 3461.0L318.0 3462.0L319.5 3464.4L321.0 3468.1L322.4 3462.7L323.9 3470.9L325.3 3465.2L326.8 3456.6L328.3 3464.2L329.7 3467.2L331.2 3468.7L332.6 3461.6L334.1 3464.0L335.5 3473.1L337.0 3465.0L338.5 3460.8L339.9 3458.5L341.4 3462.7L342.8 3465.8L344.3 3460.1L345.8 3469.7L347.2 3461.5L348.7 3457.0L350.1 3467.0L351.6 3464.6L353.0 3463.5L354.5 3469.4L356.0 3462.1L357.4 3467.2L358.9 3462.4L360.3 3470.8L361.8 3464.5L363.3 3464.6L364.7 3466.8L366.2 3464.1L367.6 3466.2L369.1 3463.5L370.5 3466.9L372.0 3464.7L373.5 3462.4L374.9 3466.7L376.4 3466.3L377.8 3460.3L379.3 3463.3L380.8 3457.9L382.2 3464.9L383.7 3467.7L385.1 3473.9L386.6 3465.6L388.0 3468.6L389.5 3470.2L391.0 3467.3L392.4 3457.2L393.9 3462.7L395.3 3465.8L396.8 3465.6L398.3 3465.0L399.7 3461.0L401.2 3457.2L402.6 3465.9L404.1 3469.0L405.5 3462.6L407.0 3466.6L408.5 3462.4L409.9 3463.9L411.4 3462.2L412.8 3467.7L414.3 3460.9L415.8 3465.0L417.2 3468.0L418.7 3464.4L420.1 3459.7L421.6 3466.0L423.0 3463.8L424.5 3459.5L426.0 3463.8L427.4 3463.3L428.9 3466.8L430.3 3462.6L431.8 3464.8L433.3 3466.8L434.7 3457.1L436.2 3468.2L437.6 3464.5L439.1 3460.6L440.5 3464.9L442.0 3468.4L443.5 3461.8L444.9 3462.3L446.4 3469.7L447.8 3470.5L449.3 3472.1L450.8 3464.6L452.2 3460.7L453.7 3460.7L455.1 3463.1L456.6 3460.5L458.0 3466.1L459.5 3469.3L461.0 3460.3L462.4 3470.1L463.9 3460.9L465.3 3461.7L466.8 3459.0L468.3 3467.2L469.7 3464.0L471.2 3464.5L472.6 3453.1L474.1 3462.1L475.5 3465.5L477.0 3453.7L478.5 3471.9L479.9 3465.6L481.4 3468.6L482.8 3463.2L484.3 3467.9L485.8 3469.3L487.2 3474.3L488.7 3460.3L490.1 3472.5L491.6 3460.2L493.0 3465.0L494.5 3462.9L496.0 3463.8L497.4 3456.9L498.9 3463.3L500.3 3459.8L501.8 3463.7L503.3 3465.5L504.7 3464.7L506.2 3464.0L507.6 3469.8L509.1 3465.7L510.5 3466.8L512.0 3469.6L513.5 3464.2L514.9 3464.8L516.4 3467.0L517.8 3463.4L519.3 3469.3L520.8 3461.9L522.2 3463.5L523.7 3463.8L525.1 3463.1L526.6 3464.3L528.0 3462.4L529.5 3455.0L531.0 3468.7L532.4 3462.5L533.9 3467.0L535.3 3460.0L536.8 3466.4L538.3 3459.1L539.7 3469.7L541.2 3463.5L542.6 3462.3L544.1 3452.8L545.5 3455.1L547.0 3461.9L548.5 3461.3L549.9 3461.3L551.4 3461.7L552.8 3467.3L554.3 3462.0L555.8 3461.9L557.2 3460.5L558.7 3459.2L560.1 3464.8L561.6 3461.6L563.0 3461.8L564.5 3464.3L566.0 3463.3L567.4 3466.1L568.9 3465.8L570.3 3457.9L571.8 3459.7L573.3 3466.4L574.7 3461.1L576.2 3465.0L577.6 3459.0L579.1 3452.8L580.5 3453.6L582.0 3459.3L583.5 3460.2L584.9 3470.8L586.4 3464.5L587.8 3464.1L589.3 3464.8L590.8 3454.8L592.2 3461.0L593.7 3460.1L595.1 3467.8L596.6 3457.2L598.0 3453.9L599.5 3459.5L601.0 3458.1L602.4 3458.7L603.9 3458.7L605.3 3457.9L606.8 3454.2L608.3 3454.3L609.7 3463.8L611.2 3452.0L612.6 3455.2L614.1 3448.6L615.5 3444.9L617.0 3452.7L618.5 3448.6L619.9 3450.4L621.4 3447.4L622.8 3442.4L624.3 3436.9L625.8 3440.6L627.2 3432.2L628.7 3432.2L630.1 3424.1L631.6 3418.5L633.0 3411.2L634.5 3403.1L636.0 3393.2L637.4 3385.3L638.9 3370.5L640.3 3357.0L641.8 3344.0L643.3 3328.8L644.7 3315.7L646.2 3304.3L647.6 3300.4L649.1 3303.4L650.5 3320.6L652.0 3353.5L653.5 3400.9L654.9 3457.3L656.4 3515.8L657.8 3566.8L659.3 3604.0L660.8 3625.6L662.2 3633.0L663.7 3629.7L665.1 3619.1L666.6 3606.4L668.1 3592.0L669.5 3575.8L671.0 3562.8L672.4 3550.2L673.9 3539.7L675.3 3529.6L676.8 3520.8L678.3 3512.7L679.7 3507.8L681.2 3503.5L682.6 3501.3L684.1 3496.5L685.6 3490.8L687.0 3487.1L688.5 3482.0L689.9 3486.5L691.4 3482.7L692.8 3482.8L694.3 3481.9L695.8 3479.9L697.2 3476.4L698.7 3474.7L700.1 3471.1L701.6 3471.6L703.1 3474.9L704.5 3481.1L706.0 3470.4L707.4 3472.3L708.9 3483.2L710.3 3470.9L711.8 3468.8L713.3 3469.8L714.7 3468.4L716.2 3461.6L717.6 3471.9L719.1 3461.6L720.6 3466.0L722.0 3466.3L723.5 3469.4L724.9 3466.6L726.4 3465.4L727.8 3463.7L729.3 3467.8L730.8 3465.4L732.2 3463.8L733.7 3461.2L735.1 3462.9L736.6 3466.7L738.1 3459.9L739.5 3466.4L741.0 3466.1L742.4 3470.1L743.9 3462.9L745.3 3461.7L746.8 3465.0L748.3 3463.7L749.7 3455.1L751.2 3469.7L752.6 3465.9L754.1 3465.5L755.6 3461.7L757.0 3466.2L758.5 3463.6L759.9 3470.9L761.4 3467.3L762.8 3470.1L764.3 3459.8L765.8 3461.1L767.2 3462.8L768.7 3462.0L770.1 3470.6L771.6 3465.7L773.1 3460.1L774.5 3463.2L776.0 3471.3L777.4 3462.9L778.9 3466.5L780.3 3457.4L781.8 3461.8L783.3 3463.3L784.7 3462.9L786.2 3463.8L787.6 3465.1L789.1 3468.1L790.6 3456.9L792.0 3463.8L793.5 3466.3L794.9 3464.4L796.4 3467.8L797.8 3462.8L799.3 3461.6L800.8 3460.0L802.2 3466.6L803.7 3458.0L805.1 3461.2L806.6 3462.6L808.1 3465.1L809.5 3461.4L811.0 3458.8L812.4 3464.6L813.9 3457.8L815.3 3459.2L816.8 3454.1L818.3 3462.4L819.7 3462.1L821.2 3454.6L822.6 3460.2L824.1 3463.0L825.6 3458.1L827.0 3454.0L828.5 3459.7L829.9 3462.2L831.4 3452.3L832.8 3462.4L834.3 3458.5L835.8 3461.9L837.2 3453.9L838.7 3461.0L840.1 3458.1L841.6 3459.2L843.1 3455.9L844.5 3458.5L846.0 3453.4L847.4 3451.5L848.9 3448.4L850.3 3445.4L851.8 3449.9L853.3 3447.1L854.7 3446.2L856.2 3443.8L857.6 3443.6L859.1 3440.3L860.6 3435.8L862.0 3436.1L863.5 3435.4L864.9 3424.5L866.4 3420.7L867.8 3416.8L869.3 3408.3L870.8 3403.1L872.2 3392.3L873.7 3382.0L875.1 3371.1L876.6 3360.1L878.1 3344.3L879.5 3331.3L881.0 3316.2L882.4 3305.0L883.9 3296.8L885.3 3295.9L886.8 3305.7L888.3 3328.5L889.7 3366.7L891.2 3416.9L892.6 3473.7L894.1 3527.2L895.6 3572.8L897.0 3604.6L898.5 3623.1L899.9 3629.2L901.4 3624.8L902.8 3615.5L904.3 3602.8L905.8 3588.9L907.2 3576.8L908.7 3561.4L910.1 3549.0L911.6 3538.4L913.1 3530.3L914.5 3522.6L916.0 3516.8L917.4 3511.5L918.9 3505.0L920.3 3500.4L921.8 3493.9L923.3 3495.5L924.7 3493.8L926.2 3487.1L927.6 3487.4L929.1 3481.2L930.6 3481.5L932.0 3480.4L933.5 3481.7L934.9 3472.2L936.4 3476.6L937.8 3478.8L939.3 3475.9L940.8 3476.3L942.2 3463.7L943.7 3469.2L945.1 3470.3L946.6 3468.4L948.1 3461.8L949.5 3474.5L951.0 3471.0L952.4 3462.1L953.9 3467.4L955.3 3469.1L956.8 3472.4L958.3 3471.0L959.7 3464.2L961.2 3465.4L962.6 3468.6L964.1 3471.3L965.6 3465.6L967.0 3464.7L968.5 3469.2L969.9 3467.4L971.4 3472.0L972.8 3468.5L974.3 3470.3L975.8 3458.7L977.2 3460.9L978.7 3460.1L980.1 3463.3L981.6 3467.2L983.1 3464.7L984.5 3467.6L986.0 3462.6L987.4 3469.3L988.9 3468.7L990.3 3458.6L991.8 3461.1L993.3 3462.7L994.7 3468.3L996.2 3468.1L997.6 3472.0L999.1 3459.0L1000.6 3465.7L1002.0 3464.7L1003.5 3463.6L1004.9 3464.1L1006.4 3456.4L1007.8 3465.6L1009.3 3462.8L1010.8 3459.4L1012.2 3469.8L1013.7 3461.5L1015.1 3465.1L1016.6 3461.4L1018.1 3458.0L1019.5 3462.2L1021.0 3465.2L1022.4 3459.9L1023.9 3465.8L1025.3 3470.5L1026.8 3468.4L1028.3 3462.4L1029.7 3460.5L1031.2 3467.2L1032.6 3458.0L1034.1 3459.3L1035.6 3470.2L1037.0 3464.8L1038.5 3465.2L1039.9 3462.1L1041.4 3474.3L1042.8 3475.4L1044.3 3462.4L1045.8 3466.2L1047.2 3461.7L1048.7 3464.5L1050.1 3467.9L1051.6 3467.5L1053.1 3461.4L1054.5 3463.8L1056.0 3473.3L1057.4 3465.7L1058.9 3467.4L1060.3 3463.8L1061.8 3460.9L1063.3 3456.7L1064.7 3456.9L1066.2 3453.8L1067.6 3455.8L1069.1 3456.3L1070.6 3462.2L1072.0 3452.4L1073.5 3460.1L1074.9 3450.3L1076.4 3467.5L1077.8 3454.5L1079.3 3456.7L1080.8 3462.1L1082.2 3453.8L1083.7 3454.0L1085.1 3453.1L1086.6 3453.5L1088.1 3448.3L1089.5 3454.8L1091.0 3450.9L1092.4 3445.6L1093.9 3447.0L1095.3 3440.4L1096.8 3436.5L1098.3 3434.6L1099.7 3432.5L1101.2 3423.9L1102.6 3422.0L1104.1 3418.1L1105.6 3409.4L1107.0 3404.6L1108.5 3394.7L1109.9 3387.1L1111.4 3376.4L1112.8 3365.1L1114.3 3351.4L1115.8 3337.1L1117.2 3323.1L1118.7 3313.0L1120.1 3300.3L1121.6 3294.5L1123.1 3296.8L1124.5 3310.7L1126.0 3336.8L1127.4 3376.4L1128.9 3426.3L1130.3 3481.5L1131.8 3532.8L1133.3 3576.2L1134.7 3606.7L1136.2 3623.4L1137.6 3629.9L1139.1 3626.6L1140.6 3619.3L1142.0 3605.7L1143.5 3592.8L1144.9 3579.3L1146.4 3566.0L1147.8 3554.2L1149.3 3544.2L1150.8 3535.3L1152.2 3526.0L1153.7 3518.9L1155.1 3513.1L1156.6 3505.7L1158.1 3502.4L1159.5 3498.8L1161.0 3497.8L1162.4 3493.9L1163.9 3490.7L1165.4 3489.7L1166.8 3482.1L1168.3 3486.7L1169.7 3479.8L1171.2 3479.2L1172.6 3476.8L1174.1 3479.7L1175.6 3473.7L1177.0 3477.4L1178.5 3473.0L1179.9 3471.6L1181.4 3474.4L1182.9 3468.9L1184.3 3476.4L1185.8 3468.4L1187.2 3468.8L1188.7 3475.0L1190.1 3464.0L1191.6 3473.1L1193.1 3469.5L1194.5 3469.3L1196.0 3469.4L1197.4 3464.8L1198.9 3474.7L1200.4 3470.1L1201.8 3470.3L1203.3 3470.8L1204.7 3471.2L1206.2 3468.4L1207.6 3463.3L1209.1 3461.8L1210.6 3461.4L1212.0 3464.8L1213.5 3470.5L1214.9 3461.2L1216.4 3464.9L1217.9 3468.6L1219.3 3464.7L1220.8 3464.9L1222.2 3461.7L1223.7 3466.5L1225.1 3463.4L1226.6 3462.9L1228.1 3464.0L1229.5 3467.0L1231.0 3469.3L1232.4 3460.9L1233.9 3467.3L1235.4 3460.9L1236.8 3457.9L1238.3 3462.6L1239.7 3465.4L1241.2 3464.9L1242.6 3466.6L1244.1 3457.1L1245.6 3470.6L1247.0 3468.3L1248.5 3467.7L1249.9 3458.7L1251.4 3466.8L1252.9 3463.0L1254.3 3463.0L1255.8 3465.0L1257.2 3458.6L1258.7 3469.2L1260.1 3468.9L1261.6 3468.0L1263.1 3470.4L1264.5 3458.1L1266.0 3463.7L1267.4 3463.5L1268.9 3459.9L1270.4 3468.0L1271.8 3474.9L1273.3 3460.6L1274.7 3467.1L1276.2 3465.1L1277.6 3465.4L1279.1 3465.2L1280.6 3467.5L1282.0 3462.3L1283.5 3463.2L1284.9 3471.3L1286.4 3464.8L1287.9 3464.7L1289.3 3457.8L1290.8 3466.6L1292.2 3467.1L1293.7 3465.8L1295.1 3470.9L1296.6 3456.9L1298.1 3468.2L1299.5 3458.2L1301.0 3460.5L1302.4 3456.8L1303.9 3467.8L1305.4 3464.0L1306.8 3462.8L1308.3 3464.6L1309.7 3456.2L1311.2 3462.0L1312.6 3465.2L1314.1 3462.1L1315.6 3464.1L1317.0 3458.1L1318.5 3465.0L1319.9 3463.1L1321.4 3465.2L1322.9 3470.4L1324.3 3464.6L1325.8 3461.9L1327.2 3465.8L1328.7 3459.9L1330.1 3470.7L1331.6 3464.2L1333.1 3464.3L1334.5 3466.1L1336.0 3459.3L1337.4 3464.1L1338.9 3463.3L1340.4 3472.6L1341.8 3469.8L1343.3 3471.3L1344.7 3464.3L1346.2 3464.7L1347.6 3468.3L1349.1 3461.4L1350.6 3460.5L1352.0 3470.2L1353.5 3466.0L1354.9 3465.9L1356.4 3457.4L1357.9 3462.4L1359.3 3462.2L1360.8 3461.3L1362.2 3465.3L1363.7 3460.4L1365.1 3459.4L1366.6 3471.7L1368.1 3465.9L1369.5 3460.0L1371.0 3472.4L1372.4 3466.3L1373.9 3465.5L1375.4 3453.5L1376.8 3470.0L1378.3 3464.9L1379.7 3469.1L1381.2 3471.0L1382.6 3459.3L1384.1 3471.7L1385.6 3467.6L1387.0 3464.8L1388.5 3455.4L1389.9 3472.1L1391.4 3465.7L1392.9 3466.9L1394.3 3459.8L1395.8 3466.9L1397.2 3466.7L1398.7 3470.3L1400.1 3460.8L1401.6 3455.9L1403.1 3462.0L1404.5 3460.5L1406.0 3465.5L1407.4 3463.8L1408.9 3465.2L1410.4 3469.4L1411.8 3471.0L1413.3 3464.6L1414.7 3458.2L1416.2 3464.3L1417.6 3463.6L1419.1 3464.0L1420.6 3463.7L1422.0 3464.2L1423.5 3455.7L1424.9 3466.4L1426.4 3466.2L1427.9 3465.5L1429.3 3463.7L1430.8 3467.7L1432.2 3457.6L1433.7 3463.7L1435.1 3466.4L1436.6 3462.4L1438.1 3463.8L1439.5 3468.0L1441.0 3463.4L1442.4 3460.6L1443.9 3462.2L1445.4 3465.5L1446.8 3460.0L1448.3 3464.1L1449.7 3462.5L1451.2 3464.3L1452.6 3467.0L1454.1 3466.9L1455.6 3464.3L1457.0 3464.9L1458.5 3467.1L1459.9 3461.1L1461.4 3464.7L1462.9 3459.6L1464.3 3468.9L1465.8 3464.5L1467.2 3459.1L1468.7 3462.2L1470.1 3467.0L1471.6 3465.2L1473.1 3457.7L1474.5 3470.9L1476.0 3465.0L1477.4 3465.6L1478.9 3463.0L1480.4 3461.0L1481.8 3458.3L1483.3 3464.8L1484.7 3464.1L1486.2 3463.2L1487.6 3467.1L1489.1 3465.4L1490.6 3460.2L1492.0 3462.6L1493.5 3468.5L1494.9 3458.9L1496.4 3472.5L1497.9 3462.1L1499.3 3474.2L1500.8 3466.0L1502.2 3458.1L1503.7 3466.0L1505.1 3464.6L1506.6 3462.6L1508.1 3464.5L1509.5 3464.5L1511.0 3451.7L1512.4 3467.1L1513.9 3463.2L1515.4 3464.4L1516.8 3467.1L1518.3 3464.3L1519.7 3459.6L1521.2 3467.5L1522.6 3463.1L1524.1 3465.2L1525.6 3461.5L1527.0 3463.7L1528.5 3460.5L1529.9 3470.4L1531.4 3460.2L1532.9 3468.1L1534.3 3457.1L1535.8 3465.3L1537.2 3463.2L1538.7 3468.2L1540.1 3465.3L1541.6 3473.2L1543.1 3475.7L1544.5 3462.3L1546.0 3467.1L1547.4 3460.7L1548.9 3460.6L1550.4 3464.2L1551.8 3467.8L1553.3 3466.9L1554.7 3463.7L1556.2 3468.8L1557.6 3459.9L1559.1 3460.9L1560.6 3464.1L1562.0 3457.4L1563.5 3469.7L1564.9 3463.9L1566.4 3463.2L1567.9 3466.2L1569.3 3459.3L1570.8 3464.0L1572.2 3457.9L1573.7 3463.9L1575.1 3465.0L1576.6 3470.7L1578.1 3464.5L1579.5 3469.8L1581.0 3464.5L1582.4 3458.2L1583.9 3467.5L1585.4 3464.8L1586.8 3462.3L1588.3 3468.1L1589.7 3460.4L1591.2 3463.0L1592.6 3467.3L1594.1 3467.8L1595.6 3462.0L1597.0 3465.7L1598.5 3464.8L1599.9 3466.9L1601.4 3463.6L1602.9 3456.3L1604.3 3463.1L1605.8 3470.4L1607.2 3461.2L1608.7 3463.7L1610.1 3467.7L1611.6 3463.6L1613.1 3460.3L1614.5 3464.4L1616.0 3463.7L1617.4 3461.1L1618.9 3463.9L1620.4 3459.1L1621.8 3458.4L1623.3 3460.1L1624.7 3463.8L1626.2 3464.5L1627.6 3462.2L1629.1 3468.7L1630.6 3466.8L1632.0 3464.7L1633.5 3468.9L1634.9 3470.3L1636.4 3467.3" stroke="#ff0000" stroke-width="8.2"/>
</g>
<line x1="179.50" y1="4140.50" x2="179.50" y2="4160.60" stroke="#000" stroke-width="7.2"/>
<line x1="325.19" y1="4140.50" x2="325.19" y2="4150.50" stroke="#000" stroke-width="7.2"/>
<line x1="470.88" y1="4140.50" x2="470.88" y2="4160.60" stroke="#000" stroke-width="7.2"/>
<line x1="616.57" y1="4140.50" x2="616.57" y2="4150.50" stroke="#000" stroke-width="7.2"/>
<line x1="762.26" y1="4140.50" x2="762.26" y2="4160.60" stroke="#000" stroke-width="7.2"/>
<line x1="907.95" y1="4140.50" x2="907.95" y2="4150.50" stroke="#000" stroke-width="7.2"/>
<line x1="1053.64" y1="4140.50" x2="1053.64" y2="4160.60" stroke="#000" stroke-width="7.2"/>
<line x1="1199.33" y1="4140.50" x2="1199.33" y2="4150.50" stroke="#000" stroke-width="7.2"/>
<line x1="1345.02" y1="4140.50" x2="1345.02" y2="4160.60" stroke="#000" stroke-width="7.2"/>
<line x1="1490.71" y1="4140.50" x2="1490.71" y2="4150.50" stroke="#000" stroke-width="7.2"/>
<line x1="1636.40" y1="4140.50" x2="1636.40" y2="4160.60" stroke="#000" stroke-width="7.2"/>
<rect x="179.50" y="3067.90" width="1456.90" height="1072.60" fill="none" stroke="#000" stroke-width="7.6"/>
<text x="179.5" y="4237.2" font-size="81.2" text-anchor="middle">3460</text>
<text x="470.9" y="4237.2" font-size="81.2" text-anchor="middle">3480</text>
<text x="762.3" y="4237.2" font-size="81.2" text-anchor="middle">3500</text>
<text x="1053.6" y="4237.2" font-size="81.2" text-anchor="middle">3520</text>
<text x="1345.0" y="4237.2" font-size="81.2" text-anchor="middle">3540</text>
<text x="1636.4" y="4237.2" font-size="81.2" text-anchor="middle">3560</text>
<text x="907.7" y="4358.2" font-size="85.6" text-anchor="middle">Magnetic Field (G)</text>
<text transform="translate(117.6 3603.6) rotate(-90)" font-size="85.8" text-anchor="middle">Intensity (a.u.)</text>
<g stroke="#ff8818" stroke-width="1.45" fill="none"><circle cx="556.5" cy="259.6" r="14.8"/><path d="M548.8 251.9L564.2 267.3M548.8 267.3L564.2 251.9"/></g>
<g stroke="#ff8818" stroke-width="1.45" fill="none"><circle cx="764.0" cy="199.6" r="14.8"/><path d="M756.3 191.9L771.7 207.3M756.3 207.3L771.7 191.9"/></g>
<g stroke="#ff8818" stroke-width="1.45" fill="none"><circle cx="978.4" cy="185.4" r="14.8"/><path d="M970.7 177.7L986.1 193.1M970.7 193.1L986.1 177.7"/></g>
<g stroke="#ff8818" stroke-width="1.45" fill="none"><circle cx="1190.4" cy="274.3" r="14.8"/><path d="M1182.7 266.6L1198.1 282.0M1182.7 282.0L1198.1 266.6"/></g>
<g stroke="#ff8818" stroke-width="1.45" fill="none"><circle cx="1228.0" cy="75.6" r="14.8"/><path d="M1220.3 67.9L1235.7 83.3M1220.3 83.3L1235.7 67.9"/></g>
<rect x="600.4" y="335.1" width="30.5" height="30.5" fill="#8000ff"/>
<rect x="795.8" y="359.8" width="30.5" height="30.5" fill="#8000ff"/>
<rect x="930.8" y="313.8" width="30.5" height="30.5" fill="#8000ff"/>
<rect x="998.8" y="417.2" width="30.5" height="30.5" fill="#8000ff"/>
<rect x="1130.5" y="339.8" width="30.5" height="30.5" fill="#8000ff"/>
<rect x="1220.5" y="155.1" width="30.5" height="30.5" fill="#8000ff"/>
<text x="1281.2" y="107.4" font-size="61.0" text-anchor="start">DMPO</text>
<text transform="translate(1454.93 106.05) scale(1.208 1)" font-size="61.0">−</text>
<text x="1492.1" y="107.4" font-size="61.0" text-anchor="start">OH</text>
<text x="1281.2" y="181.6" font-size="61.0" text-anchor="start">DMPO</text>
<text transform="translate(1454.86 180.55) scale(1.230 1)" font-size="61.0">−</text>
<text x="1495.2" y="181.6" font-size="61.0" text-anchor="start">SO</text>
<text x="1571.7" y="197.5" font-size="42.0" text-anchor="start">4</text>
<text x="1249.3" y="637.3" font-size="61.4" text-anchor="start">PMS/SP/PAC</text>
<text x="1387.8" y="988.7" font-size="61.6" text-anchor="start">Control</text>
<path d="M555.8 1718.1L599.2 1718.1L577.5 1754.5Z" fill="#ff00ff"/>
<path d="M733.5 1680.6L776.9 1680.6L755.2 1716.0Z" fill="#ff00ff"/>
<path d="M773.0 1793.3L816.4 1793.3L794.7 1828.8Z" fill="#ff00ff"/>
<path d="M938.8 1702.4L982.2 1702.4L960.5 1738.3Z" fill="#ff00ff"/>
<path d="M974.9 1780.1L1018.3 1780.1L996.6 1815.3Z" fill="#ff00ff"/>
<path d="M1137.9 1722.4L1181.3 1722.4L1159.6 1757.5Z" fill="#ff00ff"/>
<path d="M1189.0 1602.1L1232.4 1602.1L1210.7 1637.0Z" fill="#ff00ff"/>
<text x="1266.6" y="1643.9" font-size="63.4" text-anchor="start">DMPO</text>
<text transform="translate(1445.71 1642.65) scale(1.136 1)" font-size="63.4">−</text>
<text x="1484.3" y="1643.9" font-size="63.4" text-anchor="start">O</text>
<text x="1529.3" y="1660.6" font-size="43.3" text-anchor="start">2</text>
<text x="1550.5" y="1618.1" font-size="46.0" text-anchor="start">•</text>
<text transform="translate(1564.26 1617.18) scale(1.095 1)" font-size="43.0">−</text>
<text x="1258.0" y="2141.0" font-size="62.6" text-anchor="start">PMS/SP/PAC</text>
<text x="1398.6" y="2524.3" font-size="63.2" text-anchor="start">Control</text>
<circle cx="644.8" cy="3251.6" r="20.2" fill="#ff8000"/>
<circle cx="883.0" cy="3251.2" r="20.2" fill="#ff8000"/>
<circle cx="1119.0" cy="3251.2" r="20.2" fill="#ff8000"/>
<circle cx="1264.6" cy="3140.5" r="20.2" fill="#ff8000"/>
<text x="1319.6" y="3160.2" font-size="63.0" text-anchor="start">TEMP</text>
<text transform="translate(1483.76 3159.82) scale(1.160 1)" font-size="63.0">−</text>
<text transform="translate(1524.37 3138.90) scale(0.680 1)" font-size="39.0">1</text>
<text x="1539.9" y="3160.4" font-size="58.5" text-anchor="start">O</text>
<text x="1580.3" y="3174.8" font-size="36.5" text-anchor="start">2</text>
<text x="1249.0" y="3637.8" font-size="63.1" text-anchor="start">PMS/SP/PAC</text>
<text x="1391.6" y="4028.0" font-size="63.4" text-anchor="start">Control</text>
<text x="833.1" y="1476.4" font-size="85.0" text-anchor="start">(</text>
<text x="859.7" y="1475.6" font-size="84.0" text-anchor="start" font-weight="bold">a</text>
<text x="902.9" y="1476.4" font-size="85.0" text-anchor="start">)</text>
<text x="828.3" y="2989.7" font-size="85.0" text-anchor="start">(</text>
<text x="855.2" y="2989.3" font-size="88.5" text-anchor="start" font-weight="bold">b</text>
<text x="906.6" y="2989.7" font-size="85.0" text-anchor="start">)</text>
<text x="834.8" y="4501.3" font-size="85.0" text-anchor="start">(</text>
<text x="862.5" y="4502.0" font-size="85.0" text-anchor="start" font-weight="bold">c</text>
<text x="899.5" y="4501.3" font-size="85.0" text-anchor="start">)</text>
</svg>
</body></html>
